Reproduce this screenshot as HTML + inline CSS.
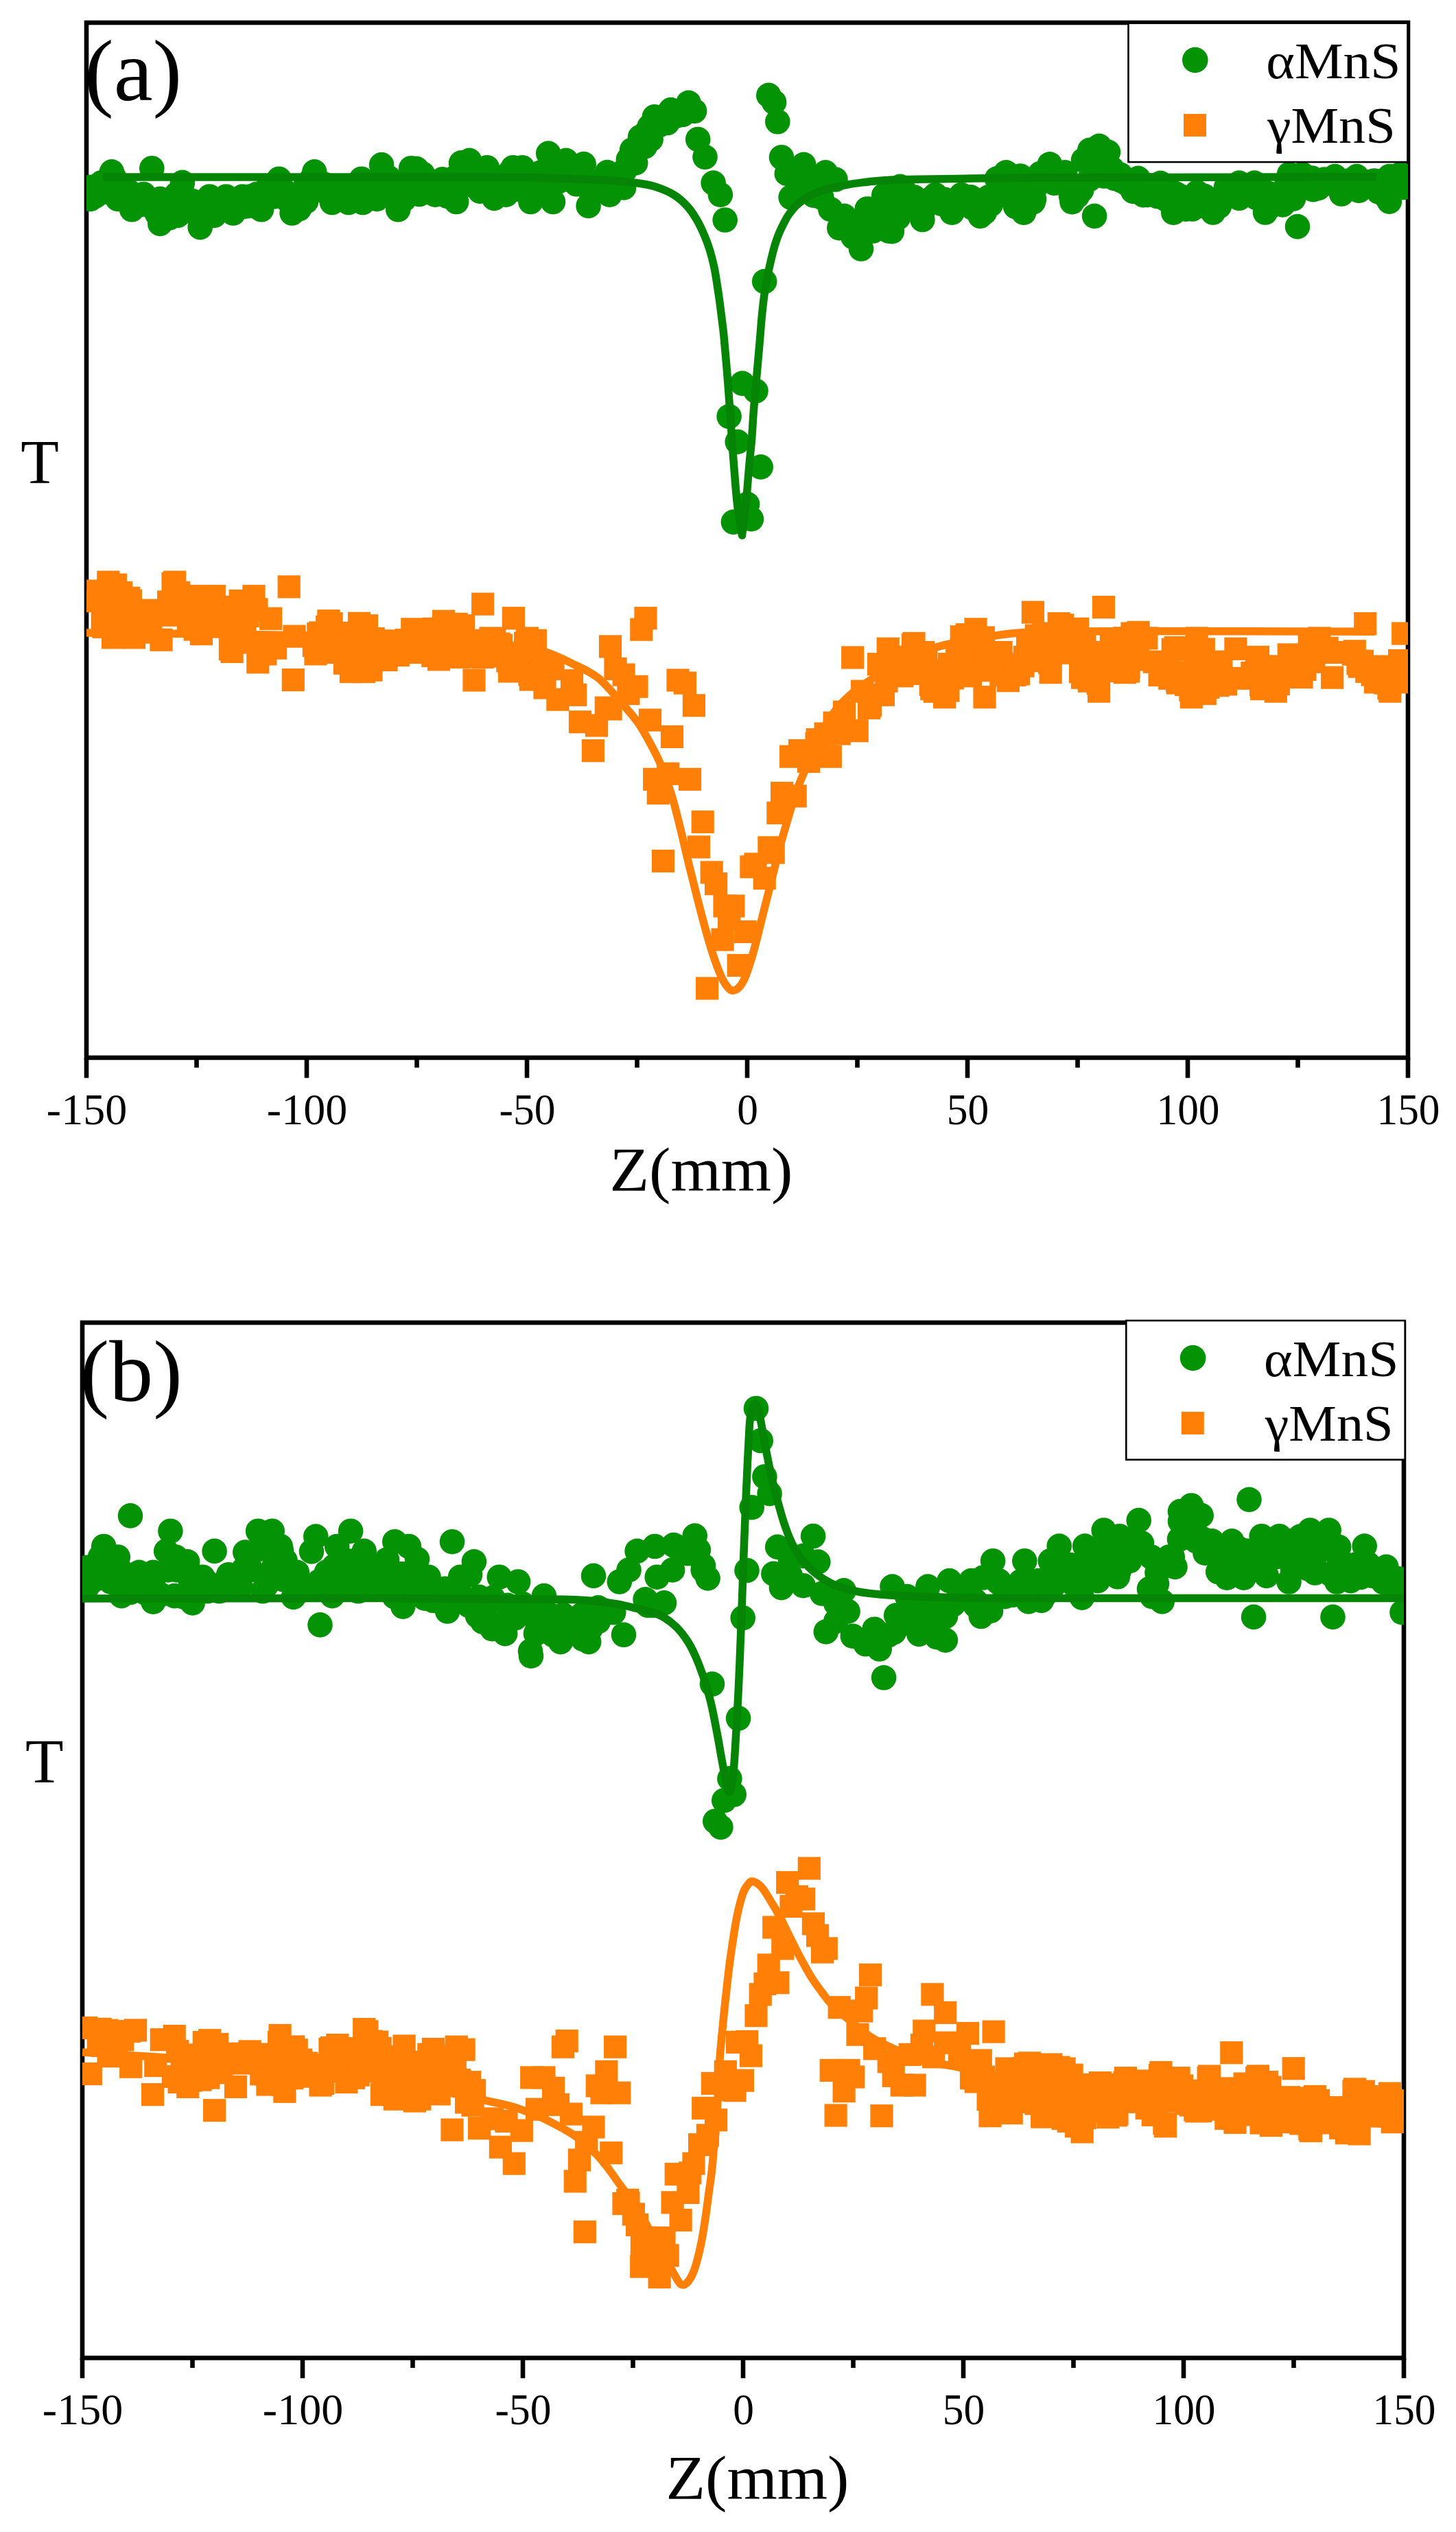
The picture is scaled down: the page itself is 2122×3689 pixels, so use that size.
<!DOCTYPE html>
<html lang="en"><head><meta charset="utf-8"><title>Z-scan MnS</title>
<style>html,body{margin:0;padding:0;background:#fff}svg{display:block}</style>
</head><body>
<svg width="2122" height="3689" viewBox="0 0 2122 3689" font-family="'Liberation Serif', serif" fill="#000">
<rect width="2122" height="3689" fill="#fff"/>
<clipPath id="clipa"><rect x="126" y="33" width="1926" height="1508"/></clipPath>
<rect x="126" y="33" width="1926" height="1508" fill="none" stroke="#000" stroke-width="6.6"/>
<line x1="126.0" y1="1541" x2="126.0" y2="1570.5" stroke="#000" stroke-width="6.6"/>
<text transform="translate(126.5,1637.7) scale(1.0,1)" font-size="64" text-anchor="middle">-150</text>
<line x1="286.5" y1="1541" x2="286.5" y2="1555.5" stroke="#000" stroke-width="6.6"/>
<line x1="447.0" y1="1541" x2="447.0" y2="1570.5" stroke="#000" stroke-width="6.6"/>
<text transform="translate(447.5,1637.7) scale(1.0,1)" font-size="64" text-anchor="middle">-100</text>
<line x1="607.5" y1="1541" x2="607.5" y2="1555.5" stroke="#000" stroke-width="6.6"/>
<line x1="768.0" y1="1541" x2="768.0" y2="1570.5" stroke="#000" stroke-width="6.6"/>
<text transform="translate(768.5,1637.7) scale(0.96,1)" font-size="64" text-anchor="middle">-50</text>
<line x1="928.5" y1="1541" x2="928.5" y2="1555.5" stroke="#000" stroke-width="6.6"/>
<line x1="1089.0" y1="1541" x2="1089.0" y2="1570.5" stroke="#000" stroke-width="6.6"/>
<text transform="translate(1089.5,1637.7) scale(0.96,1)" font-size="64" text-anchor="middle">0</text>
<line x1="1249.5" y1="1541" x2="1249.5" y2="1555.5" stroke="#000" stroke-width="6.6"/>
<line x1="1410.0" y1="1541" x2="1410.0" y2="1570.5" stroke="#000" stroke-width="6.6"/>
<text transform="translate(1410.5,1637.7) scale(0.96,1)" font-size="64" text-anchor="middle">50</text>
<line x1="1570.5" y1="1541" x2="1570.5" y2="1555.5" stroke="#000" stroke-width="6.6"/>
<line x1="1731.0" y1="1541" x2="1731.0" y2="1570.5" stroke="#000" stroke-width="6.6"/>
<text transform="translate(1731.5,1637.7) scale(0.96,1)" font-size="64" text-anchor="middle">100</text>
<line x1="1891.5" y1="1541" x2="1891.5" y2="1555.5" stroke="#000" stroke-width="6.6"/>
<line x1="2052.0" y1="1541" x2="2052.0" y2="1570.5" stroke="#000" stroke-width="6.6"/>
<text transform="translate(2052.5,1637.7) scale(0.96,1)" font-size="64" text-anchor="middle">150</text>
<g clip-path="url(#clipa)">
<g fill="#ff7f07"><rect x="126.2" y="844.5" width="33.2" height="33.2"/><rect x="132.7" y="883.7" width="33.2" height="33.2"/><rect x="139.1" y="865.4" width="33.2" height="33.2"/><rect x="145.5" y="876.8" width="33.2" height="33.2"/><rect x="151.9" y="835.5" width="33.2" height="33.2"/><rect x="158.3" y="908.9" width="33.2" height="33.2"/><rect x="164.8" y="879.6" width="33.2" height="33.2"/><rect x="171.2" y="854.8" width="33.2" height="33.2"/><rect x="177.6" y="905.8" width="33.2" height="33.2"/><rect x="184.0" y="874.9" width="33.2" height="33.2"/><rect x="190.4" y="904.5" width="33.2" height="33.2"/><rect x="196.9" y="875.4" width="33.2" height="33.2"/><rect x="203.3" y="883.7" width="33.2" height="33.2"/><rect x="216.1" y="875.6" width="33.2" height="33.2"/><rect x="229.0" y="860.3" width="33.2" height="33.2"/><rect x="235.4" y="833.9" width="33.2" height="33.2"/><rect x="241.8" y="877.1" width="33.2" height="33.2"/><rect x="248.2" y="863.2" width="33.2" height="33.2"/><rect x="254.6" y="852.7" width="33.2" height="33.2"/><rect x="267.5" y="900.4" width="33.2" height="33.2"/><rect x="273.9" y="868.6" width="33.2" height="33.2"/><rect x="280.3" y="890.5" width="33.2" height="33.2"/><rect x="286.7" y="863.1" width="33.2" height="33.2"/><rect x="293.2" y="882.3" width="33.2" height="33.2"/><rect x="299.6" y="867.9" width="33.2" height="33.2"/><rect x="306.0" y="874.7" width="33.2" height="33.2"/><rect x="312.4" y="892.0" width="33.2" height="33.2"/><rect x="318.8" y="929.1" width="33.2" height="33.2"/><rect x="325.3" y="895.9" width="33.2" height="33.2"/><rect x="331.7" y="867.8" width="33.2" height="33.2"/><rect x="338.1" y="905.8" width="33.2" height="33.2"/><rect x="344.5" y="880.9" width="33.2" height="33.2"/><rect x="350.9" y="919.4" width="33.2" height="33.2"/><rect x="357.4" y="871.3" width="33.2" height="33.2"/><rect x="363.8" y="929.0" width="33.2" height="33.2"/><rect x="370.2" y="936.3" width="33.2" height="33.2"/><rect x="440.8" y="923.9" width="33.2" height="33.2"/><rect x="447.2" y="906.9" width="33.2" height="33.2"/><rect x="453.7" y="933.8" width="33.2" height="33.2"/><rect x="460.1" y="896.7" width="33.2" height="33.2"/><rect x="466.5" y="892.1" width="33.2" height="33.2"/><rect x="472.9" y="916.8" width="33.2" height="33.2"/><rect x="479.3" y="928.0" width="33.2" height="33.2"/><rect x="485.8" y="949.6" width="33.2" height="33.2"/><rect x="492.2" y="905.7" width="33.2" height="33.2"/><rect x="498.6" y="947.9" width="33.2" height="33.2"/><rect x="505.0" y="921.1" width="33.2" height="33.2"/><rect x="511.4" y="933.8" width="33.2" height="33.2"/><rect x="517.9" y="895.1" width="33.2" height="33.2"/><rect x="524.3" y="959.6" width="33.2" height="33.2"/><rect x="530.7" y="933.6" width="33.2" height="33.2"/><rect x="537.1" y="917.6" width="33.2" height="33.2"/><rect x="543.5" y="941.5" width="33.2" height="33.2"/><rect x="550.0" y="925.6" width="33.2" height="33.2"/><rect x="556.4" y="936.6" width="33.2" height="33.2"/><rect x="562.8" y="921.4" width="33.2" height="33.2"/><rect x="569.2" y="930.4" width="33.2" height="33.2"/><rect x="575.6" y="916.0" width="33.2" height="33.2"/><rect x="582.1" y="920.4" width="33.2" height="33.2"/><rect x="588.5" y="907.1" width="33.2" height="33.2"/><rect x="594.9" y="920.0" width="33.2" height="33.2"/><rect x="601.3" y="916.7" width="33.2" height="33.2"/><rect x="607.7" y="902.1" width="33.2" height="33.2"/><rect x="614.2" y="938.8" width="33.2" height="33.2"/><rect x="620.6" y="905.3" width="33.2" height="33.2"/><rect x="627.0" y="927.5" width="33.2" height="33.2"/><rect x="633.4" y="899.7" width="33.2" height="33.2"/><rect x="639.8" y="930.3" width="33.2" height="33.2"/><rect x="646.3" y="912.9" width="33.2" height="33.2"/><rect x="652.7" y="921.5" width="33.2" height="33.2"/><rect x="659.1" y="895.1" width="33.2" height="33.2"/><rect x="665.5" y="939.6" width="33.2" height="33.2"/><rect x="671.9" y="928.7" width="33.2" height="33.2"/><rect x="678.4" y="919.6" width="33.2" height="33.2"/><rect x="684.8" y="937.5" width="33.2" height="33.2"/><rect x="691.2" y="921.5" width="33.2" height="33.2"/><rect x="697.6" y="932.5" width="33.2" height="33.2"/><rect x="704.0" y="915.4" width="33.2" height="33.2"/><rect x="710.5" y="921.5" width="33.2" height="33.2"/><rect x="716.9" y="939.5" width="33.2" height="33.2"/><rect x="723.3" y="946.3" width="33.2" height="33.2"/><rect x="729.7" y="941.8" width="33.2" height="33.2"/><rect x="736.1" y="960.3" width="33.2" height="33.2"/><rect x="742.6" y="943.3" width="33.2" height="33.2"/><rect x="749.0" y="920.5" width="33.2" height="33.2"/><rect x="755.4" y="966.2" width="33.2" height="33.2"/><rect x="761.8" y="931.3" width="33.2" height="33.2"/><rect x="1275.4" y="975.6" width="33.2" height="33.2"/><rect x="1281.8" y="942.1" width="33.2" height="33.2"/><rect x="1288.3" y="960.3" width="33.2" height="33.2"/><rect x="1301.1" y="940.7" width="33.2" height="33.2"/><rect x="1307.5" y="949.3" width="33.2" height="33.2"/><rect x="1313.9" y="923.0" width="33.2" height="33.2"/><rect x="1320.4" y="962.6" width="33.2" height="33.2"/><rect x="1326.8" y="954.0" width="33.2" height="33.2"/><rect x="1333.2" y="940.3" width="33.2" height="33.2"/><rect x="1339.6" y="980.7" width="33.2" height="33.2"/><rect x="1346.0" y="990.7" width="33.2" height="33.2"/><rect x="1352.5" y="984.7" width="33.2" height="33.2"/><rect x="1358.9" y="960.7" width="33.2" height="33.2"/><rect x="1365.3" y="989.5" width="33.2" height="33.2"/><rect x="1371.7" y="971.3" width="33.2" height="33.2"/><rect x="1378.1" y="933.9" width="33.2" height="33.2"/><rect x="1384.6" y="911.1" width="33.2" height="33.2"/><rect x="1391.0" y="964.8" width="33.2" height="33.2"/><rect x="1397.4" y="934.2" width="33.2" height="33.2"/><rect x="1403.8" y="908.4" width="33.2" height="33.2"/><rect x="1410.2" y="960.1" width="33.2" height="33.2"/><rect x="1416.7" y="912.4" width="33.2" height="33.2"/><rect x="1429.5" y="938.7" width="33.2" height="33.2"/><rect x="1435.9" y="935.3" width="33.2" height="33.2"/><rect x="1442.3" y="966.9" width="33.2" height="33.2"/><rect x="1448.8" y="951.2" width="33.2" height="33.2"/><rect x="1455.2" y="958.6" width="33.2" height="33.2"/><rect x="1461.6" y="966.9" width="33.2" height="33.2"/><rect x="1468.0" y="965.2" width="33.2" height="33.2"/><rect x="1474.4" y="953.6" width="33.2" height="33.2"/><rect x="1480.9" y="919.6" width="33.2" height="33.2"/><rect x="1487.3" y="937.9" width="33.2" height="33.2"/><rect x="1493.7" y="909.5" width="33.2" height="33.2"/><rect x="1500.1" y="946.1" width="33.2" height="33.2"/><rect x="1506.5" y="917.8" width="33.2" height="33.2"/><rect x="1513.0" y="948.9" width="33.2" height="33.2"/><rect x="1519.4" y="921.9" width="33.2" height="33.2"/><rect x="1525.8" y="934.6" width="33.2" height="33.2"/><rect x="1532.2" y="894.1" width="33.2" height="33.2"/><rect x="1538.6" y="931.8" width="33.2" height="33.2"/><rect x="1545.1" y="916.7" width="33.2" height="33.2"/><rect x="1551.5" y="908.1" width="33.2" height="33.2"/><rect x="1557.9" y="962.1" width="33.2" height="33.2"/><rect x="1564.3" y="920.9" width="33.2" height="33.2"/><rect x="1570.7" y="975.6" width="33.2" height="33.2"/><rect x="1577.2" y="950.7" width="33.2" height="33.2"/><rect x="1583.6" y="979.2" width="33.2" height="33.2"/><rect x="1590.0" y="947.7" width="33.2" height="33.2"/><rect x="1596.4" y="961.0" width="33.2" height="33.2"/><rect x="1602.8" y="917.9" width="33.2" height="33.2"/><rect x="1609.3" y="939.6" width="33.2" height="33.2"/><rect x="1615.7" y="939.0" width="33.2" height="33.2"/><rect x="1622.1" y="913.2" width="33.2" height="33.2"/><rect x="1628.5" y="954.8" width="33.2" height="33.2"/><rect x="1634.9" y="922.2" width="33.2" height="33.2"/><rect x="1641.4" y="944.4" width="33.2" height="33.2"/><rect x="1654.2" y="913.3" width="33.2" height="33.2"/><rect x="1673.5" y="966.9" width="33.2" height="33.2"/><rect x="1679.9" y="957.7" width="33.2" height="33.2"/><rect x="1686.3" y="957.9" width="33.2" height="33.2"/><rect x="1692.7" y="929.6" width="33.2" height="33.2"/><rect x="1699.1" y="976.0" width="33.2" height="33.2"/><rect x="1705.6" y="963.1" width="33.2" height="33.2"/><rect x="1712.0" y="981.0" width="33.2" height="33.2"/><rect x="1718.4" y="988.8" width="33.2" height="33.2"/><rect x="1724.8" y="939.0" width="33.2" height="33.2"/><rect x="1731.2" y="973.4" width="33.2" height="33.2"/><rect x="1737.7" y="929.4" width="33.2" height="33.2"/><rect x="1744.1" y="984.7" width="33.2" height="33.2"/><rect x="1750.5" y="967.1" width="33.2" height="33.2"/><rect x="1756.9" y="968.2" width="33.2" height="33.2"/><rect x="1763.3" y="949.3" width="33.2" height="33.2"/><rect x="1769.8" y="980.3" width="33.2" height="33.2"/><rect x="1808.3" y="963.9" width="33.2" height="33.2"/><rect x="1814.7" y="946.3" width="33.2" height="33.2"/><rect x="1821.1" y="981.6" width="33.2" height="33.2"/><rect x="1827.5" y="954.7" width="33.2" height="33.2"/><rect x="1834.0" y="979.7" width="33.2" height="33.2"/><rect x="1840.4" y="961.7" width="33.2" height="33.2"/><rect x="1846.8" y="979.9" width="33.2" height="33.2"/><rect x="1853.2" y="959.7" width="33.2" height="33.2"/><rect x="1866.1" y="956.9" width="33.2" height="33.2"/><rect x="1872.5" y="939.0" width="33.2" height="33.2"/><rect x="1878.9" y="968.8" width="33.2" height="33.2"/><rect x="1885.3" y="958.8" width="33.2" height="33.2"/><rect x="1891.7" y="920.1" width="33.2" height="33.2"/><rect x="1898.2" y="943.5" width="33.2" height="33.2"/><rect x="1904.6" y="923.6" width="33.2" height="33.2"/><rect x="1917.4" y="927.7" width="33.2" height="33.2"/><rect x="1955.9" y="936.6" width="33.2" height="33.2"/><rect x="1962.4" y="950.0" width="33.2" height="33.2"/><rect x="1968.8" y="946.6" width="33.2" height="33.2"/><rect x="1975.2" y="961.7" width="33.2" height="33.2"/><rect x="1981.6" y="955.1" width="33.2" height="33.2"/><rect x="1988.0" y="977.3" width="33.2" height="33.2"/><rect x="1994.5" y="972.5" width="33.2" height="33.2"/><rect x="2000.9" y="958.8" width="33.2" height="33.2"/><rect x="2007.3" y="986.2" width="33.2" height="33.2"/><rect x="2013.7" y="959.3" width="33.2" height="33.2"/><rect x="2020.1" y="977.2" width="33.2" height="33.2"/><rect x="115.4" y="858.9" width="33.2" height="33.2"/><rect x="141.2" y="831.5" width="33.2" height="33.2"/><rect x="134.3" y="896.7" width="33.2" height="33.2"/><rect x="148.0" y="912.2" width="33.2" height="33.2"/><rect x="160.1" y="846.9" width="33.2" height="33.2"/><rect x="173.8" y="858.9" width="33.2" height="33.2"/><rect x="178.9" y="912.2" width="33.2" height="33.2"/><rect x="218.4" y="915.6" width="33.2" height="33.2"/><rect x="206.4" y="872.7" width="33.2" height="33.2"/><rect x="238.0" y="831.5" width="33.2" height="33.2"/><rect x="244.2" y="846.9" width="33.2" height="33.2"/><rect x="257.9" y="895.0" width="33.2" height="33.2"/><rect x="276.8" y="852.1" width="33.2" height="33.2"/><rect x="276.8" y="907.0" width="33.2" height="33.2"/><rect x="295.7" y="852.1" width="33.2" height="33.2"/><rect x="300.9" y="889.9" width="33.2" height="33.2"/><rect x="321.5" y="932.8" width="33.2" height="33.2"/><rect x="333.5" y="858.9" width="33.2" height="33.2"/><rect x="353.4" y="852.1" width="33.2" height="33.2"/><rect x="340.4" y="912.2" width="33.2" height="33.2"/><rect x="359.2" y="948.2" width="33.2" height="33.2"/><rect x="378.1" y="884.7" width="33.2" height="33.2"/><rect x="385.0" y="927.6" width="33.2" height="33.2"/><rect x="404.6" y="838.3" width="33.2" height="33.2"/><rect x="410.7" y="974.0" width="33.2" height="33.2"/><rect x="412.5" y="910.5" width="33.2" height="33.2"/><rect x="443.4" y="936.2" width="33.2" height="33.2"/><rect x="450.2" y="905.3" width="33.2" height="33.2"/><rect x="462.3" y="888.1" width="33.2" height="33.2"/><rect x="488.0" y="944.8" width="33.2" height="33.2"/><rect x="494.9" y="962.0" width="33.2" height="33.2"/><rect x="506.9" y="891.6" width="33.2" height="33.2"/><rect x="513.8" y="962.0" width="33.2" height="33.2"/><rect x="520.6" y="953.4" width="33.2" height="33.2"/><rect x="527.5" y="913.9" width="33.2" height="33.2"/><rect x="546.4" y="944.8" width="33.2" height="33.2"/><rect x="563.6" y="937.9" width="33.2" height="33.2"/><rect x="580.7" y="920.8" width="33.2" height="33.2"/><rect x="584.2" y="900.2" width="33.2" height="33.2"/><rect x="597.9" y="920.8" width="33.2" height="33.2"/><rect x="154.9" y="872.7" width="33.2" height="33.2"/><rect x="189.3" y="886.4" width="33.2" height="33.2"/><rect x="230.5" y="879.6" width="33.2" height="33.2"/><rect x="323.2" y="896.7" width="33.2" height="33.2"/><rect x="481.1" y="920.8" width="33.2" height="33.2"/><rect x="549.8" y="917.3" width="33.2" height="33.2"/><rect x="586.8" y="933.9" width="33.2" height="33.2"/><rect x="593.7" y="906.4" width="33.2" height="33.2"/><rect x="616.0" y="899.6" width="33.2" height="33.2"/><rect x="629.8" y="888.6" width="33.2" height="33.2"/><rect x="622.9" y="944.2" width="33.2" height="33.2"/><rect x="648.6" y="892.7" width="33.2" height="33.2"/><rect x="652.1" y="940.8" width="33.2" height="33.2"/><rect x="674.4" y="974.4" width="33.2" height="33.2"/><rect x="687.1" y="863.5" width="33.2" height="33.2"/><rect x="698.4" y="913.3" width="33.2" height="33.2"/><rect x="686.4" y="940.8" width="33.2" height="33.2"/><rect x="713.9" y="923.6" width="33.2" height="33.2"/><rect x="725.9" y="961.4" width="33.2" height="33.2"/><rect x="731.8" y="884.1" width="33.2" height="33.2"/><rect x="751.7" y="913.3" width="33.2" height="33.2"/><rect x="763.7" y="916.7" width="33.2" height="33.2"/><rect x="756.8" y="973.4" width="33.2" height="33.2"/><rect x="777.4" y="985.4" width="33.2" height="33.2"/><rect x="796.3" y="1002.6" width="33.2" height="33.2"/><rect x="789.4" y="957.9" width="33.2" height="33.2"/><rect x="816.9" y="975.1" width="33.2" height="33.2"/><rect x="822.1" y="995.7" width="33.2" height="33.2"/><rect x="828.9" y="1035.2" width="33.2" height="33.2"/><rect x="853.0" y="1040.4" width="33.2" height="33.2"/><rect x="847.8" y="1077.1" width="33.2" height="33.2"/><rect x="866.7" y="1014.6" width="33.2" height="33.2"/><rect x="872.9" y="925.3" width="33.2" height="33.2"/><rect x="880.4" y="957.9" width="33.2" height="33.2"/><rect x="892.5" y="966.5" width="33.2" height="33.2"/><rect x="899.3" y="994.0" width="33.2" height="33.2"/><rect x="911.4" y="983.7" width="33.2" height="33.2"/><rect x="918.2" y="900.6" width="33.2" height="33.2"/><rect x="924.4" y="884.1" width="33.2" height="33.2"/><rect x="930.9" y="1032.5" width="33.2" height="33.2"/><rect x="962.9" y="1056.8" width="33.2" height="33.2"/><rect x="971.4" y="974.4" width="33.2" height="33.2"/><rect x="981.8" y="978.5" width="33.2" height="33.2"/><rect x="994.8" y="1011.2" width="33.2" height="33.2"/><rect x="624.6" y="916.7" width="33.2" height="33.2"/><rect x="669.3" y="916.7" width="33.2" height="33.2"/><rect x="737.9" y="940.8" width="33.2" height="33.2"/><rect x="775.7" y="954.5" width="33.2" height="33.2"/><rect x="873.5" y="1016.4" width="33.2" height="33.2"/><rect x="937.0" y="1118.8" width="33.2" height="33.2"/><rect x="957.1" y="1110.7" width="33.2" height="33.2"/><rect x="988.9" y="1118.8" width="33.2" height="33.2"/><rect x="942.7" y="1139.0" width="33.2" height="33.2"/><rect x="1007.6" y="1180.8" width="33.2" height="33.2"/><rect x="1001.9" y="1217.4" width="33.2" height="33.2"/><rect x="949.9" y="1237.9" width="33.2" height="33.2"/><rect x="1020.6" y="1254.4" width="33.2" height="33.2"/><rect x="1027.0" y="1271.1" width="33.2" height="33.2"/><rect x="1039.4" y="1303.4" width="33.2" height="33.2"/><rect x="1052.3" y="1303.4" width="33.2" height="33.2"/><rect x="1046.0" y="1320.7" width="33.2" height="33.2"/><rect x="1036.5" y="1352.4" width="33.2" height="33.2"/><rect x="1069.6" y="1340.9" width="33.2" height="33.2"/><rect x="1059.6" y="1389.9" width="33.2" height="33.2"/><rect x="1014.0" y="1423.4" width="33.2" height="33.2"/><rect x="1078.3" y="1246.3" width="33.2" height="33.2"/><rect x="1097.6" y="1263.0" width="33.2" height="33.2"/><rect x="1104.3" y="1218.3" width="33.2" height="33.2"/><rect x="1110.6" y="1225.5" width="33.2" height="33.2"/><rect x="1117.2" y="1167.8" width="33.2" height="33.2"/><rect x="1123.0" y="1139.0" width="33.2" height="33.2"/><rect x="1142.6" y="1143.3" width="33.2" height="33.2"/><rect x="1136.0" y="1085.6" width="33.2" height="33.2"/><rect x="1149.0" y="1077.0" width="33.2" height="33.2"/><rect x="1162.0" y="1092.8" width="33.2" height="33.2"/><rect x="1173.5" y="1066.9" width="33.2" height="33.2"/><rect x="1193.7" y="1085.6" width="33.2" height="33.2"/><rect x="1186.5" y="1052.4" width="33.2" height="33.2"/><rect x="1199.5" y="1036.6" width="33.2" height="33.2"/><rect x="1206.7" y="1052.4" width="33.2" height="33.2"/><rect x="1232.6" y="1048.1" width="33.2" height="33.2"/><rect x="1213.9" y="1020.7" width="33.2" height="33.2"/><rect x="1249.9" y="1014.9" width="33.2" height="33.2"/><rect x="1174.6" y="1061.0" width="33.2" height="33.2"/><rect x="1226.1" y="941.4" width="33.2" height="33.2"/><rect x="1239.9" y="990.6" width="33.2" height="33.2"/><rect x="1251.9" y="1011.2" width="33.2" height="33.2"/><rect x="1263.9" y="951.1" width="33.2" height="33.2"/><rect x="1277.6" y="928.7" width="33.2" height="33.2"/><rect x="1270.8" y="995.7" width="33.2" height="33.2"/><rect x="1298.2" y="968.2" width="33.2" height="33.2"/><rect x="1315.4" y="920.8" width="33.2" height="33.2"/><rect x="1329.1" y="933.9" width="33.2" height="33.2"/><rect x="1341.2" y="987.1" width="33.2" height="33.2"/><rect x="1360.0" y="999.1" width="33.2" height="33.2"/><rect x="1366.9" y="951.1" width="33.2" height="33.2"/><rect x="1392.7" y="908.1" width="33.2" height="33.2"/><rect x="1405.4" y="900.2" width="33.2" height="33.2"/><rect x="1397.8" y="968.2" width="33.2" height="33.2"/><rect x="1418.4" y="999.1" width="33.2" height="33.2"/><rect x="1452.8" y="975.1" width="33.2" height="33.2"/><rect x="1463.1" y="966.5" width="33.2" height="33.2"/><rect x="1442.5" y="933.9" width="33.2" height="33.2"/><rect x="1488.8" y="875.5" width="33.2" height="33.2"/><rect x="1504.3" y="906.4" width="33.2" height="33.2"/><rect x="1514.6" y="963.1" width="33.2" height="33.2"/><rect x="1526.6" y="892.0" width="33.2" height="33.2"/><rect x="1554.1" y="899.6" width="33.2" height="33.2"/><rect x="1531.8" y="933.9" width="33.2" height="33.2"/><rect x="1560.9" y="970.6" width="33.2" height="33.2"/><rect x="1585.0" y="990.6" width="33.2" height="33.2"/><rect x="1566.1" y="940.8" width="33.2" height="33.2"/><rect x="1591.8" y="868.0" width="33.2" height="33.2"/><rect x="1597.0" y="933.9" width="33.2" height="33.2"/><rect x="1622.8" y="963.1" width="33.2" height="33.2"/><rect x="1614.2" y="916.7" width="33.2" height="33.2"/><rect x="1633.4" y="906.4" width="33.2" height="33.2"/><rect x="1325.7" y="964.8" width="33.2" height="33.2"/><rect x="1387.5" y="940.8" width="33.2" height="33.2"/><rect x="1421.9" y="940.8" width="33.2" height="33.2"/><rect x="1476.8" y="940.8" width="33.2" height="33.2"/><rect x="1490.5" y="916.7" width="33.2" height="33.2"/><rect x="1604.0" y="940.8" width="33.2" height="33.2"/><rect x="1628.0" y="961.4" width="33.2" height="33.2"/><rect x="1642.5" y="904.7" width="33.2" height="33.2"/><rect x="1665.8" y="947.6" width="33.2" height="33.2"/><rect x="1688.1" y="971.7" width="33.2" height="33.2"/><rect x="1700.2" y="978.5" width="33.2" height="33.2"/><rect x="1719.7" y="999.1" width="33.2" height="33.2"/><rect x="1696.7" y="927.0" width="33.2" height="33.2"/><rect x="1727.6" y="940.8" width="33.2" height="33.2"/><rect x="1739.7" y="994.0" width="33.2" height="33.2"/><rect x="1758.5" y="982.0" width="33.2" height="33.2"/><rect x="1755.1" y="947.6" width="33.2" height="33.2"/><rect x="1784.3" y="928.7" width="33.2" height="33.2"/><rect x="1789.4" y="971.7" width="33.2" height="33.2"/><rect x="1822.1" y="987.1" width="33.2" height="33.2"/><rect x="1842.7" y="990.6" width="33.2" height="33.2"/><rect x="1816.9" y="940.8" width="33.2" height="33.2"/><rect x="1861.6" y="937.3" width="33.2" height="33.2"/><rect x="1880.4" y="970.0" width="33.2" height="33.2"/><rect x="1906.2" y="913.3" width="33.2" height="33.2"/><rect x="1925.1" y="970.6" width="33.2" height="33.2"/><rect x="1926.8" y="933.9" width="33.2" height="33.2"/><rect x="1957.7" y="932.2" width="33.2" height="33.2"/><rect x="1964.6" y="954.5" width="33.2" height="33.2"/><rect x="1973.2" y="892.0" width="33.2" height="33.2"/><rect x="1983.5" y="966.5" width="33.2" height="33.2"/><rect x="2002.4" y="978.5" width="33.2" height="33.2"/><rect x="2009.2" y="990.6" width="33.2" height="33.2"/><rect x="2023.0" y="945.9" width="33.2" height="33.2"/><rect x="2028.1" y="906.4" width="33.2" height="33.2"/><rect x="2033.3" y="947.6" width="33.2" height="33.2"/><rect x="1727.6" y="913.3" width="33.2" height="33.2"/><rect x="1844.4" y="954.5" width="33.2" height="33.2"/><rect x="1892.5" y="947.6" width="33.2" height="33.2"/><rect x="1604.0" y="916.7" width="33.2" height="33.2"/><rect x="1995.5" y="954.5" width="33.2" height="33.2"/><rect x="1084.4" y="1242.4" width="33.2" height="33.2"/></g>
<path d="M126.0,922.0C171.7,922.5 321.0,923.7 400.0,925.0C479.0,926.3 550.0,928.2 600.0,930.0C650.0,931.8 675.0,934.2 700.0,936.0C725.0,937.8 734.2,938.7 750.0,941.0C765.8,943.3 780.7,945.6 794.5,949.8C808.3,954.0 820.2,960.0 833.0,966.3C845.8,972.6 859.1,977.7 871.5,987.6C883.9,997.5 897.8,1015.1 907.4,1025.8C917.0,1036.5 922.5,1042.6 929.0,1051.7C935.5,1060.8 940.8,1070.5 946.3,1080.6C951.8,1090.7 956.9,1099.8 962.2,1112.3C967.5,1124.8 973.2,1140.2 978.0,1155.6C982.8,1171.0 986.7,1187.3 991.0,1204.6C995.3,1221.9 999.7,1241.6 1004.0,1259.4C1008.3,1277.2 1012.7,1294.5 1017.0,1311.3C1021.3,1328.1 1025.9,1346.0 1030.0,1360.4C1034.1,1374.8 1037.7,1386.9 1041.5,1397.9C1045.3,1409.0 1049.6,1419.7 1053.0,1426.7C1056.4,1433.7 1059.3,1437.0 1061.7,1439.7C1064.1,1442.5 1065.1,1443.2 1067.5,1443.2C1069.9,1443.2 1073.1,1442.5 1076.0,1439.7C1078.9,1437.0 1081.6,1433.7 1084.8,1426.7C1088.0,1419.7 1091.5,1409.0 1094.9,1397.9C1098.3,1386.9 1101.7,1373.4 1105.0,1360.4C1108.3,1347.4 1111.6,1333.5 1115.0,1320.0C1118.4,1306.5 1121.6,1294.0 1125.2,1279.6C1128.8,1265.2 1132.9,1247.9 1136.7,1233.5C1140.5,1219.1 1144.5,1206.0 1148.3,1193.0C1152.1,1180.0 1156.0,1166.6 1159.8,1155.6C1163.6,1144.5 1164.1,1143.1 1171.3,1126.7C1178.5,1110.3 1191.7,1076.1 1203.0,1057.0C1214.3,1037.9 1223.1,1026.5 1239.3,1012.3C1255.5,998.1 1279.4,983.5 1300.0,972.0C1320.6,960.5 1339.9,950.9 1363.0,943.6C1386.1,936.3 1415.7,931.9 1438.5,928.2C1461.3,924.5 1464.8,922.7 1500.0,921.3C1535.2,919.9 1566.1,919.8 1650.0,919.6C1733.9,919.4 1944.6,920.2 2003.5,920.3" fill="none" stroke="#ff7f07" stroke-width="11.5" stroke-linejoin="round"/>
<g fill="#049304"><circle cx="130.0" cy="277.0" r="18.3"/><circle cx="139.0" cy="285.6" r="18.3"/><circle cx="148.0" cy="266.2" r="18.3"/><circle cx="157.0" cy="274.1" r="18.3"/><circle cx="166.0" cy="258.3" r="18.3"/><circle cx="175.0" cy="282.0" r="18.3"/><circle cx="184.0" cy="292.5" r="18.3"/><circle cx="193.0" cy="286.0" r="18.3"/><circle cx="202.0" cy="298.9" r="18.3"/><circle cx="220.0" cy="300.2" r="18.3"/><circle cx="229.0" cy="311.5" r="18.3"/><circle cx="238.0" cy="297.1" r="18.3"/><circle cx="247.0" cy="317.4" r="18.3"/><circle cx="256.0" cy="289.9" r="18.3"/><circle cx="265.0" cy="277.9" r="18.3"/><circle cx="274.0" cy="301.9" r="18.3"/><circle cx="283.0" cy="308.4" r="18.3"/><circle cx="292.0" cy="313.2" r="18.3"/><circle cx="301.0" cy="295.4" r="18.3"/><circle cx="310.0" cy="308.4" r="18.3"/><circle cx="319.0" cy="300.2" r="18.3"/><circle cx="328.0" cy="293.3" r="18.3"/><circle cx="337.0" cy="304.5" r="18.3"/><circle cx="346.0" cy="296.1" r="18.3"/><circle cx="355.0" cy="300.9" r="18.3"/><circle cx="364.0" cy="286.5" r="18.3"/><circle cx="373.0" cy="300.9" r="18.3"/><circle cx="382.0" cy="294.2" r="18.3"/><circle cx="391.0" cy="271.9" r="18.3"/><circle cx="400.0" cy="280.0" r="18.3"/><circle cx="409.0" cy="271.0" r="18.3"/><circle cx="418.0" cy="290.6" r="18.3"/><circle cx="427.0" cy="285.8" r="18.3"/><circle cx="436.0" cy="304.3" r="18.3"/><circle cx="445.0" cy="271.9" r="18.3"/><circle cx="454.0" cy="261.1" r="18.3"/><circle cx="463.0" cy="269.7" r="18.3"/><circle cx="472.0" cy="268.3" r="18.3"/><circle cx="481.0" cy="286.1" r="18.3"/><circle cx="490.0" cy="277.2" r="18.3"/><circle cx="499.0" cy="290.6" r="18.3"/><circle cx="508.0" cy="285.6" r="18.3"/><circle cx="517.0" cy="269.3" r="18.3"/><circle cx="526.0" cy="286.5" r="18.3"/><circle cx="535.0" cy="274.4" r="18.3"/><circle cx="544.0" cy="273.1" r="18.3"/><circle cx="553.0" cy="262.4" r="18.3"/><circle cx="562.0" cy="279.9" r="18.3"/><circle cx="571.0" cy="272.7" r="18.3"/><circle cx="580.0" cy="270.6" r="18.3"/><circle cx="589.0" cy="290.3" r="18.3"/><circle cx="598.0" cy="258.0" r="18.3"/><circle cx="607.0" cy="257.9" r="18.3"/><circle cx="616.0" cy="253.4" r="18.3"/><circle cx="625.0" cy="279.3" r="18.3"/><circle cx="634.0" cy="272.6" r="18.3"/><circle cx="643.0" cy="267.0" r="18.3"/><circle cx="652.0" cy="285.9" r="18.3"/><circle cx="661.0" cy="260.0" r="18.3"/><circle cx="670.0" cy="253.8" r="18.3"/><circle cx="679.0" cy="245.9" r="18.3"/><circle cx="688.0" cy="269.6" r="18.3"/><circle cx="697.0" cy="256.2" r="18.3"/><circle cx="706.0" cy="255.4" r="18.3"/><circle cx="715.0" cy="277.7" r="18.3"/><circle cx="724.0" cy="262.1" r="18.3"/><circle cx="733.0" cy="271.0" r="18.3"/><circle cx="742.0" cy="252.1" r="18.3"/><circle cx="751.0" cy="275.8" r="18.3"/><circle cx="760.0" cy="269.1" r="18.3"/><circle cx="769.0" cy="256.7" r="18.3"/><circle cx="778.0" cy="285.4" r="18.3"/><circle cx="787.0" cy="251.8" r="18.3"/><circle cx="796.0" cy="265.9" r="18.3"/><circle cx="805.0" cy="237.7" r="18.3"/><circle cx="814.0" cy="258.7" r="18.3"/><circle cx="823.0" cy="249.4" r="18.3"/><circle cx="832.0" cy="242.5" r="18.3"/><circle cx="841.0" cy="261.0" r="18.3"/><circle cx="850.0" cy="263.4" r="18.3"/><circle cx="859.0" cy="275.5" r="18.3"/><circle cx="868.0" cy="271.8" r="18.3"/><circle cx="877.0" cy="277.2" r="18.3"/><circle cx="1309.0" cy="317.1" r="18.3"/><circle cx="1318.0" cy="278.3" r="18.3"/><circle cx="1327.0" cy="291.2" r="18.3"/><circle cx="1336.0" cy="300.4" r="18.3"/><circle cx="1345.0" cy="306.9" r="18.3"/><circle cx="1354.0" cy="291.1" r="18.3"/><circle cx="1363.0" cy="292.2" r="18.3"/><circle cx="1372.0" cy="296.8" r="18.3"/><circle cx="1381.0" cy="295.5" r="18.3"/><circle cx="1390.0" cy="303.2" r="18.3"/><circle cx="1399.0" cy="294.2" r="18.3"/><circle cx="1417.0" cy="302.5" r="18.3"/><circle cx="1426.0" cy="292.9" r="18.3"/><circle cx="1435.0" cy="309.3" r="18.3"/><circle cx="1444.0" cy="297.7" r="18.3"/><circle cx="1453.0" cy="260.3" r="18.3"/><circle cx="1462.0" cy="273.2" r="18.3"/><circle cx="1471.0" cy="266.1" r="18.3"/><circle cx="1480.0" cy="283.2" r="18.3"/><circle cx="1489.0" cy="267.1" r="18.3"/><circle cx="1498.0" cy="299.0" r="18.3"/><circle cx="1507.0" cy="289.9" r="18.3"/><circle cx="1516.0" cy="253.0" r="18.3"/><circle cx="1525.0" cy="262.5" r="18.3"/><circle cx="1534.0" cy="250.3" r="18.3"/><circle cx="1543.0" cy="255.8" r="18.3"/><circle cx="1552.0" cy="259.9" r="18.3"/><circle cx="1561.0" cy="285.6" r="18.3"/><circle cx="1570.0" cy="285.6" r="18.3"/><circle cx="1579.0" cy="233.3" r="18.3"/><circle cx="1588.0" cy="261.0" r="18.3"/><circle cx="1597.0" cy="230.3" r="18.3"/><circle cx="1606.0" cy="239.0" r="18.3"/><circle cx="1615.0" cy="221.6" r="18.3"/><circle cx="1624.0" cy="259.9" r="18.3"/><circle cx="1633.0" cy="254.7" r="18.3"/><circle cx="1642.0" cy="267.2" r="18.3"/><circle cx="1651.0" cy="278.0" r="18.3"/><circle cx="1660.0" cy="269.6" r="18.3"/><circle cx="1669.0" cy="274.4" r="18.3"/><circle cx="1678.0" cy="270.2" r="18.3"/><circle cx="1687.0" cy="286.0" r="18.3"/><circle cx="1696.0" cy="288.2" r="18.3"/><circle cx="1705.0" cy="277.5" r="18.3"/><circle cx="1714.0" cy="300.4" r="18.3"/><circle cx="1723.0" cy="294.3" r="18.3"/><circle cx="1732.0" cy="297.7" r="18.3"/><circle cx="1741.0" cy="289.4" r="18.3"/><circle cx="1750.0" cy="299.7" r="18.3"/><circle cx="1759.0" cy="295.0" r="18.3"/><circle cx="1768.0" cy="291.6" r="18.3"/><circle cx="1777.0" cy="300.3" r="18.3"/><circle cx="1786.0" cy="280.6" r="18.3"/><circle cx="1795.0" cy="281.9" r="18.3"/><circle cx="1804.0" cy="271.1" r="18.3"/><circle cx="1813.0" cy="284.4" r="18.3"/><circle cx="1831.0" cy="288.1" r="18.3"/><circle cx="1840.0" cy="277.3" r="18.3"/><circle cx="1849.0" cy="302.7" r="18.3"/><circle cx="1858.0" cy="293.3" r="18.3"/><circle cx="1867.0" cy="280.6" r="18.3"/><circle cx="1876.0" cy="262.8" r="18.3"/><circle cx="1885.0" cy="289.5" r="18.3"/><circle cx="1903.0" cy="265.0" r="18.3"/><circle cx="1912.0" cy="259.5" r="18.3"/><circle cx="1921.0" cy="274.2" r="18.3"/><circle cx="1930.0" cy="261.6" r="18.3"/><circle cx="1939.0" cy="263.8" r="18.3"/><circle cx="1948.0" cy="262.2" r="18.3"/><circle cx="1957.0" cy="277.4" r="18.3"/><circle cx="1966.0" cy="269.8" r="18.3"/><circle cx="1975.0" cy="262.3" r="18.3"/><circle cx="1984.0" cy="272.6" r="18.3"/><circle cx="1993.0" cy="265.4" r="18.3"/><circle cx="2002.0" cy="273.0" r="18.3"/><circle cx="2011.0" cy="264.4" r="18.3"/><circle cx="2020.0" cy="286.3" r="18.3"/><circle cx="2029.0" cy="273.8" r="18.3"/><circle cx="2038.0" cy="263.9" r="18.3"/><circle cx="2047.0" cy="268.2" r="18.3"/><circle cx="132.0" cy="272.7" r="18.3"/><circle cx="132.0" cy="289.9" r="18.3"/><circle cx="162.9" cy="250.4" r="18.3"/><circle cx="171.5" cy="289.9" r="18.3"/><circle cx="192.1" cy="305.3" r="18.3"/><circle cx="221.3" cy="245.2" r="18.3"/><circle cx="233.3" cy="325.9" r="18.3"/><circle cx="265.9" cy="265.9" r="18.3"/><circle cx="291.7" cy="331.1" r="18.3"/><circle cx="259.1" cy="313.9" r="18.3"/><circle cx="312.3" cy="313.9" r="18.3"/><circle cx="339.8" cy="310.5" r="18.3"/><circle cx="381.0" cy="305.3" r="18.3"/><circle cx="406.7" cy="260.7" r="18.3"/><circle cx="425.6" cy="310.5" r="18.3"/><circle cx="458.3" cy="250.4" r="18.3"/><circle cx="484.0" cy="295.0" r="18.3"/><circle cx="508.0" cy="295.0" r="18.3"/><circle cx="528.7" cy="295.0" r="18.3"/><circle cx="526.9" cy="260.7" r="18.3"/><circle cx="556.1" cy="240.1" r="18.3"/><circle cx="580.2" cy="305.3" r="18.3"/><circle cx="599.1" cy="245.2" r="18.3"/><circle cx="611.1" cy="283.0" r="18.3"/><circle cx="150.9" cy="279.6" r="18.3"/><circle cx="188.7" cy="279.6" r="18.3"/><circle cx="209.3" cy="283.0" r="18.3"/><circle cx="233.3" cy="289.9" r="18.3"/><circle cx="257.4" cy="283.0" r="18.3"/><circle cx="281.4" cy="293.3" r="18.3"/><circle cx="305.4" cy="286.5" r="18.3"/><circle cx="329.5" cy="286.5" r="18.3"/><circle cx="353.5" cy="286.5" r="18.3"/><circle cx="374.1" cy="283.0" r="18.3"/><circle cx="398.2" cy="286.5" r="18.3"/><circle cx="422.2" cy="283.0" r="18.3"/><circle cx="442.8" cy="279.6" r="18.3"/><circle cx="466.8" cy="276.2" r="18.3"/><circle cx="490.9" cy="272.7" r="18.3"/><circle cx="511.5" cy="276.2" r="18.3"/><circle cx="542.4" cy="276.2" r="18.3"/><circle cx="566.4" cy="276.2" r="18.3"/><circle cx="587.0" cy="276.2" r="18.3"/><circle cx="611.1" cy="265.9" r="18.3"/><circle cx="360.4" cy="300.2" r="18.3"/><circle cx="326.0" cy="300.2" r="18.3"/><circle cx="274.5" cy="307.1" r="18.3"/><circle cx="446.2" cy="293.3" r="18.3"/><circle cx="549.3" cy="289.9" r="18.3"/><circle cx="566.4" cy="259.0" r="18.3"/><circle cx="606.9" cy="245.9" r="18.3"/><circle cx="634.3" cy="283.7" r="18.3"/><circle cx="665.2" cy="294.0" r="18.3"/><circle cx="672.1" cy="237.4" r="18.3"/><circle cx="684.1" cy="233.9" r="18.3"/><circle cx="709.9" cy="244.2" r="18.3"/><circle cx="699.6" cy="278.6" r="18.3"/><circle cx="720.2" cy="288.9" r="18.3"/><circle cx="737.4" cy="283.7" r="18.3"/><circle cx="747.7" cy="244.2" r="18.3"/><circle cx="761.4" cy="244.2" r="18.3"/><circle cx="782.0" cy="259.7" r="18.3"/><circle cx="773.4" cy="294.0" r="18.3"/><circle cx="806.0" cy="294.0" r="18.3"/><circle cx="799.2" cy="223.6" r="18.3"/><circle cx="824.9" cy="233.9" r="18.3"/><circle cx="850.7" cy="239.1" r="18.3"/><circle cx="840.4" cy="268.3" r="18.3"/><circle cx="857.6" cy="299.9" r="18.3"/><circle cx="885.0" cy="251.1" r="18.3"/><circle cx="888.5" cy="283.7" r="18.3"/><circle cx="909.1" cy="273.4" r="18.3"/><circle cx="921.1" cy="218.5" r="18.3"/><circle cx="926.2" cy="237.4" r="18.3"/><circle cx="940.0" cy="213.3" r="18.3"/><circle cx="946.8" cy="184.1" r="18.3"/><circle cx="953.7" cy="170.4" r="18.3"/><circle cx="960.6" cy="182.4" r="18.3"/><circle cx="977.7" cy="160.1" r="18.3"/><circle cx="994.9" cy="167.0" r="18.3"/><circle cx="1003.5" cy="149.8" r="18.3"/><circle cx="1012.1" cy="161.8" r="18.3"/><circle cx="1017.2" cy="203.0" r="18.3"/><circle cx="1027.5" cy="228.8" r="18.3"/><circle cx="1039.6" cy="266.6" r="18.3"/><circle cx="1049.9" cy="283.7" r="18.3"/><circle cx="1056.7" cy="320.5" r="18.3"/><circle cx="620.6" cy="261.4" r="18.3"/><circle cx="644.6" cy="261.4" r="18.3"/><circle cx="658.4" cy="264.8" r="18.3"/><circle cx="685.9" cy="261.4" r="18.3"/><circle cx="727.1" cy="264.8" r="18.3"/><circle cx="751.1" cy="271.7" r="18.3"/><circle cx="792.3" cy="271.7" r="18.3"/><circle cx="812.9" cy="264.8" r="18.3"/><circle cx="826.6" cy="261.4" r="18.3"/><circle cx="861.0" cy="264.8" r="18.3"/><circle cx="874.7" cy="271.7" r="18.3"/><circle cx="902.2" cy="261.4" r="18.3"/><circle cx="933.1" cy="199.6" r="18.3"/><circle cx="943.4" cy="191.0" r="18.3"/><circle cx="965.7" cy="170.4" r="18.3"/><circle cx="986.3" cy="168.7" r="18.3"/><circle cx="972.6" cy="179.0" r="18.3"/><circle cx="915.9" cy="232.2" r="18.3"/><circle cx="910.8" cy="247.7" r="18.3"/><circle cx="948.6" cy="203.0" r="18.3"/><circle cx="929.7" cy="216.8" r="18.3"/><circle cx="1139.0" cy="229.2" r="18.3"/><circle cx="1146.8" cy="252.9" r="18.3"/><circle cx="1152.6" cy="287.5" r="18.3"/><circle cx="1171.3" cy="239.9" r="18.3"/><circle cx="1168.5" cy="267.3" r="18.3"/><circle cx="1203.1" cy="251.4" r="18.3"/><circle cx="1217.5" cy="261.5" r="18.3"/><circle cx="1197.3" cy="287.5" r="18.3"/><circle cx="1210.3" cy="304.8" r="18.3"/><circle cx="1230.5" cy="314.9" r="18.3"/><circle cx="1223.3" cy="332.2" r="18.3"/><circle cx="1243.5" cy="345.2" r="18.3"/><circle cx="1255.0" cy="362.5" r="18.3"/><circle cx="1268.0" cy="304.8" r="18.3"/><circle cx="1272.3" cy="336.5" r="18.3"/><circle cx="1288.2" cy="284.6" r="18.3"/><circle cx="1295.4" cy="336.5" r="18.3"/><circle cx="1120.3" cy="138.9" r="18.3"/><circle cx="1128.1" cy="149.0" r="18.3"/><circle cx="1133.3" cy="177.3" r="18.3"/><circle cx="1114.2" cy="410.1" r="18.3"/><circle cx="1081.9" cy="558.6" r="18.3"/><circle cx="1101.5" cy="569.6" r="18.3"/><circle cx="1062.6" cy="606.8" r="18.3"/><circle cx="1074.7" cy="643.7" r="18.3"/><circle cx="1108.7" cy="680.4" r="18.3"/><circle cx="1089.1" cy="734.6" r="18.3"/><circle cx="1068.9" cy="760.6" r="18.3"/><circle cx="1094.9" cy="756.2" r="18.3"/><circle cx="1185.8" cy="261.5" r="18.3"/><circle cx="1185.8" cy="284.6" r="18.3"/><circle cx="1252.1" cy="327.9" r="18.3"/><circle cx="1283.8" cy="313.5" r="18.3"/><circle cx="1263.7" cy="304.5" r="18.3"/><circle cx="1299.8" cy="337.2" r="18.3"/><circle cx="1287.8" cy="290.8" r="18.3"/><circle cx="1311.8" cy="271.9" r="18.3"/><circle cx="1344.4" cy="320.0" r="18.3"/><circle cx="1332.4" cy="287.4" r="18.3"/><circle cx="1363.3" cy="283.9" r="18.3"/><circle cx="1387.4" cy="309.7" r="18.3"/><circle cx="1401.1" cy="283.9" r="18.3"/><circle cx="1428.6" cy="314.8" r="18.3"/><circle cx="1440.6" cy="287.4" r="18.3"/><circle cx="1466.3" cy="251.3" r="18.3"/><circle cx="1480.1" cy="301.1" r="18.3"/><circle cx="1487.0" cy="256.5" r="18.3"/><circle cx="1492.1" cy="309.7" r="18.3"/><circle cx="1505.8" cy="294.2" r="18.3"/><circle cx="1529.9" cy="239.3" r="18.3"/><circle cx="1536.7" cy="266.8" r="18.3"/><circle cx="1552.2" cy="251.3" r="18.3"/><circle cx="1562.5" cy="294.2" r="18.3"/><circle cx="1576.2" cy="277.1" r="18.3"/><circle cx="1588.3" cy="218.7" r="18.3"/><circle cx="1602.0" cy="212.8" r="18.3"/><circle cx="1595.1" cy="314.8" r="18.3"/><circle cx="1608.9" cy="256.5" r="18.3"/><circle cx="1620.9" cy="246.2" r="18.3"/><circle cx="1651.8" cy="278.8" r="18.3"/><circle cx="1658.7" cy="259.9" r="18.3"/><circle cx="1672.4" cy="283.9" r="18.3"/><circle cx="1691.3" cy="266.8" r="18.3"/><circle cx="1699.9" cy="290.8" r="18.3"/><circle cx="1710.2" cy="309.7" r="18.3"/><circle cx="1737.6" cy="304.5" r="18.3"/><circle cx="1744.5" cy="280.5" r="18.3"/><circle cx="1294.6" cy="311.4" r="18.3"/><circle cx="1318.7" cy="297.7" r="18.3"/><circle cx="1353.0" cy="294.2" r="18.3"/><circle cx="1377.1" cy="290.8" r="18.3"/><circle cx="1414.8" cy="287.4" r="18.3"/><circle cx="1456.0" cy="280.5" r="18.3"/><circle cx="1469.8" cy="273.6" r="18.3"/><circle cx="1511.0" cy="270.2" r="18.3"/><circle cx="1593.4" cy="253.0" r="18.3"/><circle cx="1634.6" cy="263.3" r="18.3"/><circle cx="1723.9" cy="287.4" r="18.3"/><circle cx="1666.3" cy="284.1" r="18.3"/><circle cx="1728.2" cy="304.7" r="18.3"/><circle cx="1739.3" cy="288.8" r="18.3"/><circle cx="1767.9" cy="309.5" r="18.3"/><circle cx="1755.2" cy="285.7" r="18.3"/><circle cx="1780.6" cy="292.0" r="18.3"/><circle cx="1806.0" cy="266.6" r="18.3"/><circle cx="1806.0" cy="288.8" r="18.3"/><circle cx="1828.2" cy="266.6" r="18.3"/><circle cx="1844.0" cy="309.5" r="18.3"/><circle cx="1850.4" cy="282.5" r="18.3"/><circle cx="1869.4" cy="298.4" r="18.3"/><circle cx="1878.9" cy="253.9" r="18.3"/><circle cx="1898.0" cy="253.9" r="18.3"/><circle cx="1891.0" cy="330.1" r="18.3"/><circle cx="1913.8" cy="276.2" r="18.3"/><circle cx="1929.7" cy="268.2" r="18.3"/><circle cx="1945.6" cy="257.1" r="18.3"/><circle cx="1955.1" cy="282.5" r="18.3"/><circle cx="1980.5" cy="277.7" r="18.3"/><circle cx="1977.3" cy="257.1" r="18.3"/><circle cx="2002.7" cy="263.5" r="18.3"/><circle cx="2024.9" cy="293.6" r="18.3"/><circle cx="2024.9" cy="257.1" r="18.3"/><circle cx="2040.8" cy="253.9" r="18.3"/><circle cx="2045.5" cy="273.0" r="18.3"/><circle cx="1679.0" cy="273.0" r="18.3"/><circle cx="1713.9" cy="282.5" r="18.3"/><circle cx="1786.9" cy="273.0" r="18.3"/><circle cx="2009.0" cy="279.3" r="18.3"/><circle cx="1964.6" cy="263.5" r="18.3"/></g>
<path d="M150.0,258.0C241.7,258.0 591.7,257.8 700.0,258.0C808.3,258.2 770.0,258.8 800.0,259.5C830.0,260.2 858.8,261.3 880.0,262.5C901.2,263.7 915.0,264.9 927.5,266.5C940.0,268.1 945.9,269.1 955.0,272.0C964.1,274.9 974.6,279.2 982.4,284.0C990.2,288.8 996.1,294.5 1001.6,300.5C1007.1,306.5 1011.3,313.0 1015.4,320.0C1019.5,327.0 1023.2,335.0 1026.4,342.5C1029.6,350.0 1032.2,356.9 1034.6,364.8C1037.0,372.7 1039.2,381.6 1041.0,390.0C1042.8,398.4 1044.0,407.5 1045.2,415.0C1046.4,422.5 1047.1,427.2 1048.2,435.0C1049.3,442.8 1050.6,452.9 1051.7,462.0C1052.8,471.1 1053.7,476.1 1055.0,489.9C1056.3,503.7 1058.3,526.5 1059.8,544.8C1061.3,563.1 1062.8,583.9 1064.0,599.8C1065.2,615.7 1065.8,627.1 1066.7,640.0C1067.6,652.9 1068.2,661.1 1069.5,676.9C1070.8,692.7 1072.5,717.4 1074.5,734.6C1076.5,751.8 1080.3,772.4 1081.5,780.0C1082.4,772.4 1085.2,751.8 1087.0,734.6C1088.8,717.4 1090.6,692.7 1092.0,676.9C1093.4,661.1 1094.5,652.9 1095.6,640.0C1096.6,627.1 1097.0,615.7 1098.3,599.8C1099.5,583.9 1101.5,563.1 1103.1,544.8C1104.7,526.5 1106.7,503.7 1107.9,489.9C1109.1,476.1 1109.3,471.1 1110.2,462.0C1111.1,452.9 1112.0,444.0 1113.2,435.0C1114.4,426.0 1115.8,416.3 1117.3,408.0C1118.8,399.7 1120.8,391.8 1122.3,385.0C1123.8,378.2 1125.1,372.7 1126.6,367.0C1128.1,361.3 1129.6,355.9 1131.3,351.0C1133.0,346.1 1134.6,341.7 1136.5,337.4C1138.4,333.1 1140.4,329.0 1142.5,325.0C1144.6,321.0 1145.9,317.9 1149.0,313.5C1152.1,309.1 1155.8,303.6 1161.0,298.9C1166.2,294.2 1173.3,288.9 1180.2,285.2C1187.1,281.5 1194.0,279.0 1202.2,276.5C1210.5,274.0 1220.6,271.8 1229.7,270.0C1238.8,268.2 1245.3,267.2 1257.0,265.9C1268.7,264.6 1278.3,262.9 1300.0,262.0C1321.7,261.1 1353.7,261.1 1387.0,260.6C1420.3,260.1 1439.5,259.4 1500.0,259.0C1560.5,258.6 1665.7,258.4 1750.0,258.2C1834.3,258.0 1963.3,257.9 2006.0,257.8" fill="none" stroke="#058405" stroke-width="11.5" stroke-linejoin="round"/>
</g>
<rect x="1644.5" y="33.8" width="407" height="202.3" fill="#fff" stroke="#000" stroke-width="2.6"/>
<circle cx="1741.8" cy="87.5" r="18.8" fill="#049304"/>
<rect x="1725.0" y="165.9" width="33" height="33" fill="#ff7f07"/>
<text transform="translate(1845.3,114) scale(1.06,1)" font-size="75">αMnS</text>
<text transform="translate(1846.9,208.3) scale(1.044,1)" font-size="75">γMnS</text>
<text x="123" y="145.6" font-size="128">(a)</text>
<text x="58" y="704.3" font-size="91" text-anchor="middle">T</text>
<text transform="translate(1022,1734.6) scale(1.0476,1)" font-size="90" text-anchor="middle">Z(mm)</text>
<clipPath id="clipb"><rect x="120" y="1927" width="1926" height="1508.4"/></clipPath>
<rect x="120" y="1927" width="1926" height="1508.4" fill="none" stroke="#000" stroke-width="6.6"/>
<line x1="120.0" y1="3435.4" x2="120.0" y2="3464.9" stroke="#000" stroke-width="6.6"/>
<text transform="translate(120.5,3532.1) scale(1.0,1)" font-size="64" text-anchor="middle">-150</text>
<line x1="280.5" y1="3435.4" x2="280.5" y2="3449.9" stroke="#000" stroke-width="6.6"/>
<line x1="441.0" y1="3435.4" x2="441.0" y2="3464.9" stroke="#000" stroke-width="6.6"/>
<text transform="translate(441.5,3532.1) scale(1.0,1)" font-size="64" text-anchor="middle">-100</text>
<line x1="601.5" y1="3435.4" x2="601.5" y2="3449.9" stroke="#000" stroke-width="6.6"/>
<line x1="762.0" y1="3435.4" x2="762.0" y2="3464.9" stroke="#000" stroke-width="6.6"/>
<text transform="translate(762.5,3532.1) scale(0.96,1)" font-size="64" text-anchor="middle">-50</text>
<line x1="922.5" y1="3435.4" x2="922.5" y2="3449.9" stroke="#000" stroke-width="6.6"/>
<line x1="1083.0" y1="3435.4" x2="1083.0" y2="3464.9" stroke="#000" stroke-width="6.6"/>
<text transform="translate(1083.5,3532.1) scale(0.96,1)" font-size="64" text-anchor="middle">0</text>
<line x1="1243.5" y1="3435.4" x2="1243.5" y2="3449.9" stroke="#000" stroke-width="6.6"/>
<line x1="1404.0" y1="3435.4" x2="1404.0" y2="3464.9" stroke="#000" stroke-width="6.6"/>
<text transform="translate(1404.5,3532.1) scale(0.96,1)" font-size="64" text-anchor="middle">50</text>
<line x1="1564.5" y1="3435.4" x2="1564.5" y2="3449.9" stroke="#000" stroke-width="6.6"/>
<line x1="1725.0" y1="3435.4" x2="1725.0" y2="3464.9" stroke="#000" stroke-width="6.6"/>
<text transform="translate(1725.5,3532.1) scale(0.96,1)" font-size="64" text-anchor="middle">100</text>
<line x1="1885.5" y1="3435.4" x2="1885.5" y2="3449.9" stroke="#000" stroke-width="6.6"/>
<line x1="2046.0" y1="3435.4" x2="2046.0" y2="3464.9" stroke="#000" stroke-width="6.6"/>
<text transform="translate(2046.5,3532.1) scale(0.96,1)" font-size="64" text-anchor="middle">150</text>
<g clip-path="url(#clipb)">
<g fill="#ff7f07"><rect x="126.7" y="2956.2" width="33.2" height="33.2"/><rect x="133.1" y="2963.3" width="33.2" height="33.2"/><rect x="139.5" y="2941.6" width="33.2" height="33.2"/><rect x="145.9" y="2977.8" width="33.2" height="33.2"/><rect x="152.3" y="2965.4" width="33.2" height="33.2"/><rect x="171.6" y="2943.0" width="33.2" height="33.2"/><rect x="235.8" y="3008.9" width="33.2" height="33.2"/><rect x="242.2" y="2972.1" width="33.2" height="33.2"/><rect x="248.6" y="3001.6" width="33.2" height="33.2"/><rect x="255.1" y="2986.7" width="33.2" height="33.2"/><rect x="261.5" y="3014.5" width="33.2" height="33.2"/><rect x="267.9" y="3003.9" width="33.2" height="33.2"/><rect x="274.3" y="2990.5" width="33.2" height="33.2"/><rect x="280.7" y="2959.0" width="33.2" height="33.2"/><rect x="287.2" y="3010.6" width="33.2" height="33.2"/><rect x="293.6" y="2979.7" width="33.2" height="33.2"/><rect x="300.0" y="2961.8" width="33.2" height="33.2"/><rect x="306.4" y="2999.9" width="33.2" height="33.2"/><rect x="312.8" y="2983.9" width="33.2" height="33.2"/><rect x="319.3" y="2985.3" width="33.2" height="33.2"/><rect x="338.5" y="2975.7" width="33.2" height="33.2"/><rect x="344.9" y="2986.0" width="33.2" height="33.2"/><rect x="357.8" y="2976.6" width="33.2" height="33.2"/><rect x="364.2" y="3005.2" width="33.2" height="33.2"/><rect x="370.6" y="2984.5" width="33.2" height="33.2"/><rect x="377.0" y="3016.8" width="33.2" height="33.2"/><rect x="383.5" y="2989.8" width="33.2" height="33.2"/><rect x="389.9" y="2958.7" width="33.2" height="33.2"/><rect x="396.3" y="3020.8" width="33.2" height="33.2"/><rect x="402.7" y="2973.4" width="33.2" height="33.2"/><rect x="409.1" y="3011.1" width="33.2" height="33.2"/><rect x="415.6" y="2970.2" width="33.2" height="33.2"/><rect x="422.0" y="2984.6" width="33.2" height="33.2"/><rect x="434.8" y="2992.3" width="33.2" height="33.2"/><rect x="441.2" y="3008.6" width="33.2" height="33.2"/><rect x="447.7" y="2997.6" width="33.2" height="33.2"/><rect x="454.1" y="3018.8" width="33.2" height="33.2"/><rect x="460.5" y="2992.2" width="33.2" height="33.2"/><rect x="466.9" y="2967.0" width="33.2" height="33.2"/><rect x="473.3" y="2993.0" width="33.2" height="33.2"/><rect x="479.8" y="2979.2" width="33.2" height="33.2"/><rect x="486.2" y="3000.7" width="33.2" height="33.2"/><rect x="492.6" y="2992.2" width="33.2" height="33.2"/><rect x="499.0" y="3010.7" width="33.2" height="33.2"/><rect x="505.4" y="2968.0" width="33.2" height="33.2"/><rect x="511.9" y="2980.0" width="33.2" height="33.2"/><rect x="518.3" y="2943.3" width="33.2" height="33.2"/><rect x="524.7" y="2957.6" width="33.2" height="33.2"/><rect x="531.1" y="2996.8" width="33.2" height="33.2"/><rect x="537.5" y="2967.7" width="33.2" height="33.2"/><rect x="544.0" y="3031.7" width="33.2" height="33.2"/><rect x="550.4" y="3014.7" width="33.2" height="33.2"/><rect x="556.8" y="3030.1" width="33.2" height="33.2"/><rect x="563.2" y="2979.8" width="33.2" height="33.2"/><rect x="569.6" y="3029.1" width="33.2" height="33.2"/><rect x="576.1" y="3009.6" width="33.2" height="33.2"/><rect x="582.5" y="3018.8" width="33.2" height="33.2"/><rect x="588.9" y="2990.8" width="33.2" height="33.2"/><rect x="595.3" y="3041.6" width="33.2" height="33.2"/><rect x="601.7" y="3006.7" width="33.2" height="33.2"/><rect x="608.2" y="2976.7" width="33.2" height="33.2"/><rect x="614.6" y="3026.5" width="33.2" height="33.2"/><rect x="621.0" y="2988.6" width="33.2" height="33.2"/><rect x="627.4" y="3014.7" width="33.2" height="33.2"/><rect x="633.8" y="2979.3" width="33.2" height="33.2"/><rect x="640.3" y="2997.2" width="33.2" height="33.2"/><rect x="646.7" y="2982.2" width="33.2" height="33.2"/><rect x="653.1" y="3014.0" width="33.2" height="33.2"/><rect x="659.5" y="2969.6" width="33.2" height="33.2"/><rect x="665.9" y="3044.9" width="33.2" height="33.2"/><rect x="672.4" y="3050.6" width="33.2" height="33.2"/><rect x="1404.2" y="2988.5" width="33.2" height="33.2"/><rect x="1410.7" y="3012.6" width="33.2" height="33.2"/><rect x="1417.1" y="3009.6" width="33.2" height="33.2"/><rect x="1423.5" y="3041.9" width="33.2" height="33.2"/><rect x="1429.9" y="3035.9" width="33.2" height="33.2"/><rect x="1436.3" y="3052.4" width="33.2" height="33.2"/><rect x="1442.8" y="3024.5" width="33.2" height="33.2"/><rect x="1449.2" y="3036.1" width="33.2" height="33.2"/><rect x="1455.6" y="3000.6" width="33.2" height="33.2"/><rect x="1462.0" y="3044.3" width="33.2" height="33.2"/><rect x="1468.4" y="3033.1" width="33.2" height="33.2"/><rect x="1474.9" y="2997.1" width="33.2" height="33.2"/><rect x="1481.3" y="3038.9" width="33.2" height="33.2"/><rect x="1487.7" y="3007.9" width="33.2" height="33.2"/><rect x="1494.1" y="3044.0" width="33.2" height="33.2"/><rect x="1500.5" y="3006.6" width="33.2" height="33.2"/><rect x="1507.0" y="3052.2" width="33.2" height="33.2"/><rect x="1513.4" y="3023.3" width="33.2" height="33.2"/><rect x="1519.8" y="3028.8" width="33.2" height="33.2"/><rect x="1526.2" y="2995.5" width="33.2" height="33.2"/><rect x="1532.6" y="3070.0" width="33.2" height="33.2"/><rect x="1539.1" y="3035.6" width="33.2" height="33.2"/><rect x="1545.5" y="3006.6" width="33.2" height="33.2"/><rect x="1551.9" y="3081.2" width="33.2" height="33.2"/><rect x="1558.3" y="3041.4" width="33.2" height="33.2"/><rect x="1564.7" y="3068.8" width="33.2" height="33.2"/><rect x="1571.2" y="3034.5" width="33.2" height="33.2"/><rect x="1577.6" y="3051.0" width="33.2" height="33.2"/><rect x="1584.0" y="3039.0" width="33.2" height="33.2"/><rect x="1590.4" y="3048.0" width="33.2" height="33.2"/><rect x="1596.8" y="3020.5" width="33.2" height="33.2"/><rect x="1609.7" y="3065.2" width="33.2" height="33.2"/><rect x="1616.1" y="3037.2" width="33.2" height="33.2"/><rect x="1622.5" y="3017.4" width="33.2" height="33.2"/><rect x="1628.9" y="3041.4" width="33.2" height="33.2"/><rect x="1635.4" y="3021.4" width="33.2" height="33.2"/><rect x="1641.8" y="3036.4" width="33.2" height="33.2"/><rect x="1648.2" y="3021.3" width="33.2" height="33.2"/><rect x="1654.6" y="3054.8" width="33.2" height="33.2"/><rect x="1661.0" y="3028.9" width="33.2" height="33.2"/><rect x="1667.5" y="3049.9" width="33.2" height="33.2"/><rect x="1673.9" y="3006.8" width="33.2" height="33.2"/><rect x="1680.3" y="3077.3" width="33.2" height="33.2"/><rect x="1686.7" y="3042.1" width="33.2" height="33.2"/><rect x="1693.1" y="3019.6" width="33.2" height="33.2"/><rect x="1699.6" y="3043.8" width="33.2" height="33.2"/><rect x="1706.0" y="3022.3" width="33.2" height="33.2"/><rect x="1712.4" y="3044.8" width="33.2" height="33.2"/><rect x="1718.8" y="3050.4" width="33.2" height="33.2"/><rect x="1725.2" y="3057.0" width="33.2" height="33.2"/><rect x="1731.7" y="3029.7" width="33.2" height="33.2"/><rect x="1738.1" y="3038.9" width="33.2" height="33.2"/><rect x="1744.5" y="3010.9" width="33.2" height="33.2"/><rect x="1750.9" y="3054.1" width="33.2" height="33.2"/><rect x="1757.3" y="3032.4" width="33.2" height="33.2"/><rect x="1763.8" y="3029.9" width="33.2" height="33.2"/><rect x="1770.2" y="3069.8" width="33.2" height="33.2"/><rect x="1776.6" y="3041.1" width="33.2" height="33.2"/><rect x="1783.0" y="3058.8" width="33.2" height="33.2"/><rect x="1789.4" y="3030.7" width="33.2" height="33.2"/><rect x="1795.9" y="3064.4" width="33.2" height="33.2"/><rect x="1802.3" y="3022.3" width="33.2" height="33.2"/><rect x="1808.7" y="3035.7" width="33.2" height="33.2"/><rect x="1815.1" y="3010.6" width="33.2" height="33.2"/><rect x="1821.5" y="3076.4" width="33.2" height="33.2"/><rect x="1828.0" y="3044.1" width="33.2" height="33.2"/><rect x="1834.4" y="3024.5" width="33.2" height="33.2"/><rect x="1840.8" y="3072.4" width="33.2" height="33.2"/><rect x="1847.2" y="3051.4" width="33.2" height="33.2"/><rect x="1853.6" y="3064.3" width="33.2" height="33.2"/><rect x="1860.1" y="3046.4" width="33.2" height="33.2"/><rect x="1866.5" y="3067.9" width="33.2" height="33.2"/><rect x="1872.9" y="3048.5" width="33.2" height="33.2"/><rect x="1879.3" y="3077.3" width="33.2" height="33.2"/><rect x="1885.7" y="3040.4" width="33.2" height="33.2"/><rect x="1892.2" y="3085.4" width="33.2" height="33.2"/><rect x="1898.6" y="3062.9" width="33.2" height="33.2"/><rect x="1905.0" y="3043.9" width="33.2" height="33.2"/><rect x="1911.4" y="3071.7" width="33.2" height="33.2"/><rect x="1917.8" y="3060.7" width="33.2" height="33.2"/><rect x="1924.3" y="3069.6" width="33.2" height="33.2"/><rect x="1930.7" y="3058.5" width="33.2" height="33.2"/><rect x="1937.1" y="3083.7" width="33.2" height="33.2"/><rect x="1943.5" y="3054.1" width="33.2" height="33.2"/><rect x="1949.9" y="3066.3" width="33.2" height="33.2"/><rect x="1956.4" y="3030.6" width="33.2" height="33.2"/><rect x="1962.8" y="3089.1" width="33.2" height="33.2"/><rect x="1969.2" y="3059.8" width="33.2" height="33.2"/><rect x="1975.6" y="3037.9" width="33.2" height="33.2"/><rect x="1982.0" y="3062.1" width="33.2" height="33.2"/><rect x="1988.5" y="3052.5" width="33.2" height="33.2"/><rect x="1994.9" y="3056.5" width="33.2" height="33.2"/><rect x="2001.3" y="3041.8" width="33.2" height="33.2"/><rect x="2007.7" y="3066.7" width="33.2" height="33.2"/><rect x="2014.1" y="3050.9" width="33.2" height="33.2"/><rect x="2020.6" y="3058.4" width="33.2" height="33.2"/><rect x="2027.0" y="3045.7" width="33.2" height="33.2"/><rect x="108.9" y="2937.9" width="33.2" height="33.2"/><rect x="115.7" y="3004.9" width="33.2" height="33.2"/><rect x="129.5" y="2939.7" width="33.2" height="33.2"/><rect x="141.5" y="2979.1" width="33.2" height="33.2"/><rect x="181.0" y="2941.4" width="33.2" height="33.2"/><rect x="162.1" y="2955.1" width="33.2" height="33.2"/><rect x="174.1" y="2994.6" width="33.2" height="33.2"/><rect x="206.0" y="3035.1" width="33.2" height="33.2"/><rect x="218.7" y="2955.1" width="33.2" height="33.2"/><rect x="237.6" y="2950.0" width="33.2" height="33.2"/><rect x="210.2" y="2992.9" width="33.2" height="33.2"/><rect x="249.7" y="2977.4" width="33.2" height="33.2"/><rect x="244.5" y="3016.9" width="33.2" height="33.2"/><rect x="257.2" y="3023.8" width="33.2" height="33.2"/><rect x="275.4" y="3013.5" width="33.2" height="33.2"/><rect x="289.1" y="2956.1" width="33.2" height="33.2"/><rect x="275.4" y="2989.4" width="33.2" height="33.2"/><rect x="296.0" y="3058.1" width="33.2" height="33.2"/><rect x="308.0" y="2975.7" width="33.2" height="33.2"/><rect x="326.9" y="3023.8" width="33.2" height="33.2"/><rect x="347.5" y="2972.3" width="33.2" height="33.2"/><rect x="333.8" y="2989.4" width="33.2" height="33.2"/><rect x="373.3" y="3020.4" width="33.2" height="33.2"/><rect x="391.5" y="2948.9" width="33.2" height="33.2"/><rect x="398.3" y="3030.7" width="33.2" height="33.2"/><rect x="411.1" y="2965.4" width="33.2" height="33.2"/><rect x="368.1" y="2982.6" width="33.2" height="33.2"/><rect x="402.5" y="2989.4" width="33.2" height="33.2"/><rect x="429.9" y="2989.4" width="33.2" height="33.2"/><rect x="450.5" y="3021.4" width="33.2" height="33.2"/><rect x="464.3" y="2968.8" width="33.2" height="33.2"/><rect x="475.3" y="2963.0" width="33.2" height="33.2"/><rect x="488.3" y="3016.9" width="33.2" height="33.2"/><rect x="488.3" y="2986.0" width="33.2" height="33.2"/><rect x="514.1" y="2940.0" width="33.2" height="33.2"/><rect x="533.0" y="2958.5" width="33.2" height="33.2"/><rect x="505.5" y="3006.6" width="33.2" height="33.2"/><rect x="539.8" y="3035.1" width="33.2" height="33.2"/><rect x="558.7" y="3041.6" width="33.2" height="33.2"/><rect x="572.5" y="2964.4" width="33.2" height="33.2"/><rect x="587.9" y="3044.4" width="33.2" height="33.2"/><rect x="574.2" y="2996.3" width="33.2" height="33.2"/><rect x="543.3" y="3003.2" width="33.2" height="33.2"/><rect x="141.5" y="2951.7" width="33.2" height="33.2"/><rect x="299.4" y="3003.2" width="33.2" height="33.2"/><rect x="443.7" y="2996.3" width="33.2" height="33.2"/><rect x="471.1" y="2996.3" width="33.2" height="33.2"/><rect x="573.7" y="3039.4" width="33.2" height="33.2"/><rect x="614.9" y="2969.0" width="33.2" height="33.2"/><rect x="648.6" y="2965.6" width="33.2" height="33.2"/><rect x="623.5" y="3034.3" width="33.2" height="33.2"/><rect x="597.7" y="3005.1" width="33.2" height="33.2"/><rect x="632.1" y="3005.1" width="33.2" height="33.2"/><rect x="642.4" y="3086.5" width="33.2" height="33.2"/><rect x="663.0" y="3046.3" width="33.2" height="33.2"/><rect x="668.1" y="3017.1" width="33.2" height="33.2"/><rect x="675.0" y="3029.1" width="33.2" height="33.2"/><rect x="681.9" y="3084.1" width="33.2" height="33.2"/><rect x="700.8" y="3070.4" width="33.2" height="33.2"/><rect x="712.8" y="3111.6" width="33.2" height="33.2"/><rect x="732.7" y="3135.6" width="33.2" height="33.2"/><rect x="721.4" y="3073.8" width="33.2" height="33.2"/><rect x="743.7" y="3087.5" width="33.2" height="33.2"/><rect x="758.1" y="3010.3" width="33.2" height="33.2"/><rect x="776.3" y="3010.3" width="33.2" height="33.2"/><rect x="790.0" y="3025.7" width="33.2" height="33.2"/><rect x="766.0" y="3056.6" width="33.2" height="33.2"/><rect x="796.9" y="3049.7" width="33.2" height="33.2"/><rect x="803.8" y="2965.6" width="33.2" height="33.2"/><rect x="809.6" y="2957.0" width="33.2" height="33.2"/><rect x="815.8" y="3063.5" width="33.2" height="33.2"/><rect x="848.4" y="3082.4" width="33.2" height="33.2"/><rect x="827.8" y="3130.4" width="33.2" height="33.2"/><rect x="821.6" y="3161.4" width="33.2" height="33.2"/><rect x="835.7" y="3235.2" width="33.2" height="33.2"/><rect x="874.2" y="3120.1" width="33.2" height="33.2"/><rect x="853.6" y="3022.3" width="33.2" height="33.2"/><rect x="867.3" y="3001.7" width="33.2" height="33.2"/><rect x="860.4" y="3032.6" width="33.2" height="33.2"/><rect x="886.2" y="3032.6" width="33.2" height="33.2"/><rect x="880.0" y="2965.6" width="33.2" height="33.2"/><rect x="892.4" y="3194.0" width="33.2" height="33.2"/><rect x="898.2" y="3188.8" width="33.2" height="33.2"/><rect x="906.8" y="3209.4" width="33.2" height="33.2"/><rect x="912.0" y="3224.9" width="33.2" height="33.2"/><rect x="918.8" y="3255.8" width="33.2" height="33.2"/><rect x="918.8" y="3279.8" width="33.2" height="33.2"/><rect x="951.4" y="3243.8" width="33.2" height="33.2"/><rect x="956.6" y="3269.5" width="33.2" height="33.2"/><rect x="963.5" y="3192.3" width="33.2" height="33.2"/><rect x="975.5" y="3218.0" width="33.2" height="33.2"/><rect x="968.6" y="3151.1" width="33.2" height="33.2"/><rect x="989.2" y="3149.3" width="33.2" height="33.2"/><rect x="994.4" y="3135.6" width="33.2" height="33.2"/><rect x="1003.0" y="3108.1" width="33.2" height="33.2"/><rect x="1008.1" y="3054.9" width="33.2" height="33.2"/><rect x="1027.0" y="3072.1" width="33.2" height="33.2"/><rect x="1021.8" y="3018.8" width="33.2" height="33.2"/><rect x="1040.7" y="3001.7" width="33.2" height="33.2"/><rect x="1054.5" y="3029.1" width="33.2" height="33.2"/><rect x="1057.9" y="2958.7" width="33.2" height="33.2"/><rect x="584.0" y="2987.9" width="33.2" height="33.2"/><rect x="608.0" y="3032.6" width="33.2" height="33.2"/><rect x="838.1" y="3104.7" width="33.2" height="33.2"/><rect x="899.4" y="3193.3" width="33.2" height="33.2"/><rect x="924.7" y="3243.8" width="33.2" height="33.2"/><rect x="918.1" y="3285.6" width="33.2" height="33.2"/><rect x="944.5" y="3301.0" width="33.2" height="33.2"/><rect x="986.3" y="3177.9" width="33.2" height="33.2"/><rect x="1014.8" y="3094.4" width="33.2" height="33.2"/><rect x="931.3" y="3270.2" width="33.2" height="33.2"/><rect x="1162.7" y="2705.5" width="33.2" height="33.2"/><rect x="1131.1" y="2726.1" width="33.2" height="33.2"/><rect x="1144.8" y="2746.7" width="33.2" height="33.2"/><rect x="1155.1" y="2750.2" width="33.2" height="33.2"/><rect x="1168.8" y="2786.2" width="33.2" height="33.2"/><rect x="1175.0" y="2803.4" width="33.2" height="33.2"/><rect x="1187.7" y="2822.3" width="33.2" height="33.2"/><rect x="1181.9" y="2827.4" width="33.2" height="33.2"/><rect x="1111.1" y="2791.4" width="33.2" height="33.2"/><rect x="1124.2" y="2822.3" width="33.2" height="33.2"/><rect x="1103.6" y="2846.3" width="33.2" height="33.2"/><rect x="1117.3" y="2872.1" width="33.2" height="33.2"/><rect x="1098.4" y="2873.8" width="33.2" height="33.2"/><rect x="1091.6" y="2889.2" width="33.2" height="33.2"/><rect x="1085.4" y="2920.1" width="33.2" height="33.2"/><rect x="1072.0" y="2957.9" width="33.2" height="33.2"/><rect x="1077.8" y="2978.5" width="33.2" height="33.2"/><rect x="1065.8" y="3014.6" width="33.2" height="33.2"/><rect x="1046.9" y="3028.3" width="33.2" height="33.2"/><rect x="1251.9" y="2860.7" width="33.2" height="33.2"/><rect x="1246.1" y="2894.4" width="33.2" height="33.2"/><rect x="1239.2" y="2913.3" width="33.2" height="33.2"/><rect x="1206.6" y="2908.1" width="33.2" height="33.2"/><rect x="1233.4" y="2947.6" width="33.2" height="33.2"/><rect x="1194.6" y="2999.8" width="33.2" height="33.2"/><rect x="1220.4" y="2999.8" width="33.2" height="33.2"/><rect x="1227.2" y="3009.4" width="33.2" height="33.2"/><rect x="1213.5" y="3030.0" width="33.2" height="33.2"/><rect x="1201.5" y="3065.4" width="33.2" height="33.2"/><rect x="1268.4" y="3066.1" width="33.2" height="33.2"/><rect x="1258.1" y="2968.2" width="33.2" height="33.2"/><rect x="1278.7" y="2987.1" width="33.2" height="33.2"/><rect x="1285.6" y="3007.7" width="33.2" height="33.2"/><rect x="1297.6" y="3021.4" width="33.2" height="33.2"/><rect x="1316.5" y="3021.4" width="33.2" height="33.2"/><rect x="1309.6" y="2976.8" width="33.2" height="33.2"/><rect x="1330.2" y="2942.5" width="33.2" height="33.2"/><rect x="1342.3" y="2889.2" width="33.2" height="33.2"/><rect x="1361.1" y="2915.7" width="33.2" height="33.2"/><rect x="1361.1" y="2959.6" width="33.2" height="33.2"/><rect x="1393.8" y="2945.9" width="33.2" height="33.2"/><rect x="1381.8" y="2976.8" width="33.2" height="33.2"/><rect x="1398.9" y="3011.1" width="33.2" height="33.2"/><rect x="1412.7" y="2985.4" width="33.2" height="33.2"/><rect x="1405.8" y="3016.3" width="33.2" height="33.2"/><rect x="1431.5" y="2943.5" width="33.2" height="33.2"/><rect x="1438.4" y="3028.3" width="33.2" height="33.2"/><rect x="1450.4" y="2997.4" width="33.2" height="33.2"/><rect x="1426.4" y="3066.1" width="33.2" height="33.2"/><rect x="1464.2" y="3045.5" width="33.2" height="33.2"/><rect x="1477.9" y="2990.5" width="33.2" height="33.2"/><rect x="1477.9" y="3045.5" width="33.2" height="33.2"/><rect x="1326.8" y="2963.1" width="33.2" height="33.2"/><rect x="1344.0" y="2980.2" width="33.2" height="33.2"/><rect x="1399.9" y="3004.3" width="33.2" height="33.2"/><rect x="1457.6" y="3062.0" width="33.2" height="33.2"/><rect x="1483.7" y="2989.2" width="33.2" height="33.2"/><rect x="1476.8" y="3020.8" width="33.2" height="33.2"/><rect x="1502.1" y="3067.5" width="33.2" height="33.2"/><rect x="1515.3" y="2991.4" width="33.2" height="33.2"/><rect x="1507.0" y="3026.3" width="33.2" height="33.2"/><rect x="1534.5" y="2997.4" width="33.2" height="33.2"/><rect x="1526.3" y="3053.7" width="33.2" height="33.2"/><rect x="1540.8" y="3073.8" width="33.2" height="33.2"/><rect x="1560.6" y="3089.4" width="33.2" height="33.2"/><rect x="1559.2" y="3020.8" width="33.2" height="33.2"/><rect x="1575.7" y="3040.0" width="33.2" height="33.2"/><rect x="1586.7" y="3018.0" width="33.2" height="33.2"/><rect x="1575.7" y="3059.2" width="33.2" height="33.2"/><rect x="1598.2" y="3068.0" width="33.2" height="33.2"/><rect x="1611.4" y="3063.3" width="33.2" height="33.2"/><rect x="1623.8" y="3011.1" width="33.2" height="33.2"/><rect x="1619.7" y="3045.5" width="33.2" height="33.2"/><rect x="1644.4" y="3015.3" width="33.2" height="33.2"/><rect x="1647.1" y="3045.5" width="33.2" height="33.2"/><rect x="1663.6" y="3064.7" width="33.2" height="33.2"/><rect x="1675.4" y="3002.9" width="33.2" height="33.2"/><rect x="1682.0" y="3081.2" width="33.2" height="33.2"/><rect x="1701.5" y="3011.1" width="33.2" height="33.2"/><rect x="1685.6" y="3042.7" width="33.2" height="33.2"/><rect x="1713.1" y="3048.2" width="33.2" height="33.2"/><rect x="1726.8" y="3059.2" width="33.2" height="33.2"/><rect x="1746.0" y="3008.4" width="33.2" height="33.2"/><rect x="1740.5" y="3042.7" width="33.2" height="33.2"/><rect x="1762.5" y="3056.5" width="33.2" height="33.2"/><rect x="1778.2" y="2974.1" width="33.2" height="33.2"/><rect x="1783.4" y="3075.7" width="33.2" height="33.2"/><rect x="1493.3" y="3048.2" width="33.2" height="33.2"/><rect x="1465.8" y="3037.2" width="33.2" height="33.2"/><rect x="1768.0" y="3026.3" width="33.2" height="33.2"/><rect x="1733.3" y="3059.0" width="33.2" height="33.2"/><rect x="1797.6" y="3019.4" width="33.2" height="33.2"/><rect x="1816.9" y="3008.3" width="33.2" height="33.2"/><rect x="1829.7" y="3016.9" width="33.2" height="33.2"/><rect x="1822.3" y="3054.0" width="33.2" height="33.2"/><rect x="1835.9" y="3080.0" width="33.2" height="33.2"/><rect x="1855.7" y="3075.0" width="33.2" height="33.2"/><rect x="1868.6" y="2997.1" width="33.2" height="33.2"/><rect x="1861.9" y="3039.2" width="33.2" height="33.2"/><rect x="1894.0" y="3087.9" width="33.2" height="33.2"/><rect x="1899.7" y="3037.9" width="33.2" height="33.2"/><rect x="1916.3" y="3076.3" width="33.2" height="33.2"/><rect x="1926.2" y="3054.0" width="33.2" height="33.2"/><rect x="1946.0" y="3091.1" width="33.2" height="33.2"/><rect x="1964.5" y="3092.4" width="33.2" height="33.2"/><rect x="1933.6" y="3066.4" width="33.2" height="33.2"/><rect x="1957.8" y="3027.3" width="33.2" height="33.2"/><rect x="1970.7" y="3030.5" width="33.2" height="33.2"/><rect x="1983.0" y="3066.4" width="33.2" height="33.2"/><rect x="2009.0" y="3033.5" width="33.2" height="33.2"/><rect x="2005.3" y="3061.4" width="33.2" height="33.2"/><rect x="2012.7" y="3075.0" width="33.2" height="33.2"/><rect x="2020.1" y="3044.1" width="33.2" height="33.2"/><rect x="1884.1" y="3061.4" width="33.2" height="33.2"/><rect x="1797.6" y="3041.7" width="33.2" height="33.2"/><rect x="1985.5" y="3046.6" width="33.2" height="33.2"/><rect x="1136.4" y="2760.8" width="33.2" height="33.2"/></g>
<path d="M120.0,2990.0C166.7,2993.3 320.0,3002.0 400.0,3010.0C480.0,3018.0 556.7,3031.3 600.0,3038.0C643.3,3044.7 642.0,3046.3 660.0,3050.0C678.0,3053.7 693.4,3057.1 708.0,3060.4C722.6,3063.7 734.5,3065.7 747.5,3069.6C760.5,3073.5 774.3,3078.7 786.0,3083.7C797.7,3088.7 808.6,3094.8 817.8,3099.8C826.9,3104.8 832.3,3107.3 840.9,3113.8C849.5,3120.3 861.5,3130.7 869.5,3138.9C877.5,3147.1 884.1,3156.3 889.2,3162.9C894.3,3169.5 896.0,3172.7 900.2,3178.5C904.4,3184.3 909.5,3191.1 914.5,3198.0C919.5,3204.9 924.1,3210.5 930.0,3220.0C935.9,3229.5 944.0,3244.2 950.0,3255.0C956.0,3265.8 961.2,3276.4 966.0,3285.0C970.8,3293.6 975.1,3300.4 978.7,3306.6C982.3,3312.8 985.1,3318.3 987.5,3322.0C989.9,3325.7 990.8,3327.9 993.0,3328.6C995.2,3329.3 998.0,3329.0 1000.7,3326.4C1003.5,3323.8 1007.0,3318.5 1009.5,3313.0C1012.0,3307.5 1013.8,3301.4 1016.0,3293.4C1018.2,3285.4 1020.6,3275.1 1022.6,3264.8C1024.6,3254.6 1026.3,3242.9 1028.0,3231.9C1029.7,3220.9 1031.0,3210.0 1032.5,3199.0C1034.0,3188.0 1035.7,3177.0 1037.0,3166.0C1038.3,3155.0 1039.1,3144.0 1040.2,3133.0C1041.3,3122.0 1042.5,3113.8 1043.5,3100.0C1044.5,3086.2 1045.6,3066.7 1046.5,3050.0C1047.4,3033.3 1047.8,3016.7 1049.0,3000.0C1050.2,2983.3 1051.9,2966.7 1053.5,2950.0C1055.1,2933.3 1057.0,2915.7 1058.8,2900.0C1060.5,2884.3 1061.6,2873.1 1064.0,2856.0C1066.4,2838.9 1070.0,2813.7 1073.0,2797.7C1076.0,2781.7 1079.4,2768.8 1082.3,2760.0C1085.2,2751.2 1088.0,2748.1 1090.5,2745.0C1093.0,2741.9 1094.0,2740.4 1097.3,2741.2C1100.5,2742.0 1105.6,2744.8 1110.0,2749.6C1114.4,2754.4 1119.0,2762.8 1123.6,2770.2C1128.2,2777.6 1132.8,2785.6 1137.4,2794.2C1142.0,2802.8 1146.4,2812.5 1151.0,2821.7C1155.6,2830.9 1159.6,2839.5 1164.8,2849.2C1170.0,2858.9 1176.3,2870.9 1182.0,2880.0C1187.7,2889.1 1193.8,2897.1 1199.0,2904.0C1204.2,2910.9 1206.2,2914.5 1213.0,2921.3C1219.8,2928.1 1230.8,2937.4 1240.0,2945.0C1249.2,2952.6 1259.2,2961.2 1267.9,2967.0C1276.6,2972.8 1279.4,2974.2 1292.0,2980.0C1304.6,2985.8 1325.7,2996.7 1343.4,3002.0C1361.1,3007.3 1372.3,3006.5 1398.4,3012.0C1424.5,3017.5 1449.7,3027.8 1500.0,3035.0C1550.3,3042.2 1609.0,3050.0 1700.0,3055.0C1791.0,3060.0 1988.3,3063.3 2046.0,3065.0" fill="none" stroke="#ff7f07" stroke-width="11.5" stroke-linejoin="round"/>
<g fill="#049304"><circle cx="124.0" cy="2297.7" r="18.3"/><circle cx="135.0" cy="2303.2" r="18.3"/><circle cx="146.0" cy="2268.5" r="18.3"/><circle cx="157.0" cy="2299.4" r="18.3"/><circle cx="168.0" cy="2302.5" r="18.3"/><circle cx="179.0" cy="2291.1" r="18.3"/><circle cx="190.0" cy="2320.0" r="18.3"/><circle cx="201.0" cy="2301.1" r="18.3"/><circle cx="212.0" cy="2320.8" r="18.3"/><circle cx="223.0" cy="2303.7" r="18.3"/><circle cx="234.0" cy="2323.4" r="18.3"/><circle cx="245.0" cy="2287.4" r="18.3"/><circle cx="256.0" cy="2268.5" r="18.3"/><circle cx="267.0" cy="2326.4" r="18.3"/><circle cx="278.0" cy="2305.4" r="18.3"/><circle cx="289.0" cy="2317.4" r="18.3"/><circle cx="300.0" cy="2303.8" r="18.3"/><circle cx="311.0" cy="2316.2" r="18.3"/><circle cx="322.0" cy="2308.7" r="18.3"/><circle cx="333.0" cy="2303.8" r="18.3"/><circle cx="344.0" cy="2303.9" r="18.3"/><circle cx="355.0" cy="2286.5" r="18.3"/><circle cx="366.0" cy="2287.2" r="18.3"/><circle cx="377.0" cy="2257.0" r="18.3"/><circle cx="388.0" cy="2309.5" r="18.3"/><circle cx="399.0" cy="2283.2" r="18.3"/><circle cx="410.0" cy="2258.9" r="18.3"/><circle cx="421.0" cy="2297.0" r="18.3"/><circle cx="432.0" cy="2308.8" r="18.3"/><circle cx="443.0" cy="2316.0" r="18.3"/><circle cx="454.0" cy="2260.4" r="18.3"/><circle cx="465.0" cy="2304.1" r="18.3"/><circle cx="476.0" cy="2290.5" r="18.3"/><circle cx="487.0" cy="2281.9" r="18.3"/><circle cx="498.0" cy="2311.0" r="18.3"/><circle cx="509.0" cy="2274.5" r="18.3"/><circle cx="520.0" cy="2292.0" r="18.3"/><circle cx="531.0" cy="2277.4" r="18.3"/><circle cx="542.0" cy="2306.2" r="18.3"/><circle cx="553.0" cy="2300.4" r="18.3"/><circle cx="564.0" cy="2272.3" r="18.3"/><circle cx="575.0" cy="2326.4" r="18.3"/><circle cx="586.0" cy="2293.4" r="18.3"/><circle cx="597.0" cy="2309.7" r="18.3"/><circle cx="608.0" cy="2271.6" r="18.3"/><circle cx="619.0" cy="2328.6" r="18.3"/><circle cx="630.0" cy="2318.3" r="18.3"/><circle cx="641.0" cy="2327.9" r="18.3"/><circle cx="652.0" cy="2342.6" r="18.3"/><circle cx="663.0" cy="2322.6" r="18.3"/><circle cx="674.0" cy="2326.5" r="18.3"/><circle cx="685.0" cy="2294.4" r="18.3"/><circle cx="696.0" cy="2354.2" r="18.3"/><circle cx="707.0" cy="2354.7" r="18.3"/><circle cx="718.0" cy="2327.9" r="18.3"/><circle cx="729.0" cy="2367.0" r="18.3"/><circle cx="740.0" cy="2338.9" r="18.3"/><circle cx="751.0" cy="2357.4" r="18.3"/><circle cx="762.0" cy="2337.0" r="18.3"/><circle cx="773.0" cy="2405.7" r="18.3"/><circle cx="784.0" cy="2365.0" r="18.3"/><circle cx="795.0" cy="2347.1" r="18.3"/><circle cx="806.0" cy="2382.1" r="18.3"/><circle cx="817.0" cy="2372.4" r="18.3"/><circle cx="828.0" cy="2380.3" r="18.3"/><circle cx="839.0" cy="2360.9" r="18.3"/><circle cx="850.0" cy="2388.2" r="18.3"/><circle cx="861.0" cy="2372.2" r="18.3"/><circle cx="872.0" cy="2362.2" r="18.3"/><circle cx="1323.0" cy="2359.2" r="18.3"/><circle cx="1334.0" cy="2353.5" r="18.3"/><circle cx="1345.0" cy="2348.7" r="18.3"/><circle cx="1356.0" cy="2333.7" r="18.3"/><circle cx="1367.0" cy="2381.6" r="18.3"/><circle cx="1378.0" cy="2355.0" r="18.3"/><circle cx="1389.0" cy="2337.7" r="18.3"/><circle cx="1400.0" cy="2327.6" r="18.3"/><circle cx="1411.0" cy="2317.5" r="18.3"/><circle cx="1422.0" cy="2339.4" r="18.3"/><circle cx="1433.0" cy="2298.5" r="18.3"/><circle cx="1444.0" cy="2346.9" r="18.3"/><circle cx="1455.0" cy="2305.4" r="18.3"/><circle cx="1466.0" cy="2312.3" r="18.3"/><circle cx="1477.0" cy="2323.6" r="18.3"/><circle cx="1488.0" cy="2303.8" r="18.3"/><circle cx="1499.0" cy="2315.6" r="18.3"/><circle cx="1510.0" cy="2312.2" r="18.3"/><circle cx="1521.0" cy="2326.2" r="18.3"/><circle cx="1532.0" cy="2300.2" r="18.3"/><circle cx="1543.0" cy="2275.1" r="18.3"/><circle cx="1554.0" cy="2300.4" r="18.3"/><circle cx="1565.0" cy="2303.8" r="18.3"/><circle cx="1576.0" cy="2305.1" r="18.3"/><circle cx="1587.0" cy="2275.1" r="18.3"/><circle cx="1598.0" cy="2295.7" r="18.3"/><circle cx="1609.0" cy="2273.7" r="18.3"/><circle cx="1620.0" cy="2250.3" r="18.3"/><circle cx="1631.0" cy="2288.4" r="18.3"/><circle cx="1642.0" cy="2267.7" r="18.3"/><circle cx="1653.0" cy="2256.5" r="18.3"/><circle cx="1664.0" cy="2248.4" r="18.3"/><circle cx="1675.0" cy="2315.0" r="18.3"/><circle cx="1686.0" cy="2307.4" r="18.3"/><circle cx="1697.0" cy="2277.7" r="18.3"/><circle cx="1708.0" cy="2272.9" r="18.3"/><circle cx="1719.0" cy="2242.5" r="18.3"/><circle cx="1730.0" cy="2229.8" r="18.3"/><circle cx="1741.0" cy="2214.2" r="18.3"/><circle cx="1752.0" cy="2241.6" r="18.3"/><circle cx="1763.0" cy="2257.2" r="18.3"/><circle cx="1774.0" cy="2266.7" r="18.3"/><circle cx="1785.0" cy="2290.7" r="18.3"/><circle cx="1796.0" cy="2272.1" r="18.3"/><circle cx="1807.0" cy="2282.7" r="18.3"/><circle cx="1818.0" cy="2269.5" r="18.3"/><circle cx="1829.0" cy="2270.6" r="18.3"/><circle cx="1840.0" cy="2272.8" r="18.3"/><circle cx="1851.0" cy="2252.6" r="18.3"/><circle cx="1862.0" cy="2263.9" r="18.3"/><circle cx="1873.0" cy="2256.9" r="18.3"/><circle cx="1884.0" cy="2286.8" r="18.3"/><circle cx="1895.0" cy="2238.6" r="18.3"/><circle cx="1906.0" cy="2285.3" r="18.3"/><circle cx="1917.0" cy="2266.7" r="18.3"/><circle cx="1928.0" cy="2254.3" r="18.3"/><circle cx="1939.0" cy="2293.3" r="18.3"/><circle cx="1950.0" cy="2267.0" r="18.3"/><circle cx="1961.0" cy="2289.4" r="18.3"/><circle cx="1972.0" cy="2286.9" r="18.3"/><circle cx="1983.0" cy="2298.0" r="18.3"/><circle cx="1994.0" cy="2278.6" r="18.3"/><circle cx="2005.0" cy="2288.1" r="18.3"/><circle cx="2016.0" cy="2305.0" r="18.3"/><circle cx="2027.0" cy="2295.9" r="18.3"/><circle cx="2038.0" cy="2306.2" r="18.3"/><circle cx="127.2" cy="2283.9" r="18.3"/><circle cx="127.2" cy="2311.4" r="18.3"/><circle cx="151.2" cy="2253.0" r="18.3"/><circle cx="144.3" cy="2287.4" r="18.3"/><circle cx="171.8" cy="2268.5" r="18.3"/><circle cx="177.0" cy="2325.1" r="18.3"/><circle cx="190.0" cy="2208.4" r="18.3"/><circle cx="202.7" cy="2290.8" r="18.3"/><circle cx="223.3" cy="2333.7" r="18.3"/><circle cx="223.3" cy="2290.8" r="18.3"/><circle cx="242.2" cy="2259.9" r="18.3"/><circle cx="248.4" cy="2230.7" r="18.3"/><circle cx="254.2" cy="2325.1" r="18.3"/><circle cx="257.7" cy="2287.4" r="18.3"/><circle cx="273.1" cy="2275.3" r="18.3"/><circle cx="280.7" cy="2335.4" r="18.3"/><circle cx="295.4" cy="2297.7" r="18.3"/><circle cx="312.6" cy="2259.9" r="18.3"/><circle cx="319.5" cy="2318.3" r="18.3"/><circle cx="333.2" cy="2294.2" r="18.3"/><circle cx="357.3" cy="2261.6" r="18.3"/><circle cx="350.4" cy="2311.4" r="18.3"/><circle cx="376.1" cy="2230.7" r="18.3"/><circle cx="396.7" cy="2230.7" r="18.3"/><circle cx="408.8" cy="2253.0" r="18.3"/><circle cx="383.0" cy="2318.3" r="18.3"/><circle cx="415.6" cy="2273.6" r="18.3"/><circle cx="412.2" cy="2301.1" r="18.3"/><circle cx="432.8" cy="2290.8" r="18.3"/><circle cx="427.7" cy="2326.9" r="18.3"/><circle cx="460.3" cy="2238.6" r="18.3"/><circle cx="453.4" cy="2311.4" r="18.3"/><circle cx="466.5" cy="2367.4" r="18.3"/><circle cx="470.6" cy="2304.5" r="18.3"/><circle cx="484.3" cy="2325.1" r="18.3"/><circle cx="491.2" cy="2253.0" r="18.3"/><circle cx="498.0" cy="2297.7" r="18.3"/><circle cx="511.1" cy="2230.7" r="18.3"/><circle cx="522.1" cy="2318.3" r="18.3"/><circle cx="530.7" cy="2259.9" r="18.3"/><circle cx="522.1" cy="2287.4" r="18.3"/><circle cx="549.6" cy="2283.9" r="18.3"/><circle cx="566.7" cy="2294.2" r="18.3"/><circle cx="575.3" cy="2246.2" r="18.3"/><circle cx="587.3" cy="2340.6" r="18.3"/><circle cx="595.9" cy="2253.0" r="18.3"/><circle cx="583.9" cy="2297.7" r="18.3"/><circle cx="604.5" cy="2301.1" r="18.3"/><circle cx="161.5" cy="2304.5" r="18.3"/><circle cx="192.4" cy="2311.4" r="18.3"/><circle cx="302.3" cy="2318.3" r="18.3"/><circle cx="549.6" cy="2311.4" r="18.3"/><circle cx="624.6" cy="2297.7" r="18.3"/><circle cx="631.5" cy="2332.0" r="18.3"/><circle cx="652.1" cy="2347.5" r="18.3"/><circle cx="659.0" cy="2246.2" r="18.3"/><circle cx="671.0" cy="2297.7" r="18.3"/><circle cx="690.9" cy="2275.3" r="18.3"/><circle cx="683.0" cy="2338.9" r="18.3"/><circle cx="698.5" cy="2326.9" r="18.3"/><circle cx="703.6" cy="2362.9" r="18.3"/><circle cx="727.7" cy="2297.7" r="18.3"/><circle cx="717.4" cy="2373.2" r="18.3"/><circle cx="736.2" cy="2380.1" r="18.3"/><circle cx="755.1" cy="2304.5" r="18.3"/><circle cx="744.8" cy="2349.2" r="18.3"/><circle cx="774.0" cy="2412.7" r="18.3"/><circle cx="780.9" cy="2380.1" r="18.3"/><circle cx="792.9" cy="2325.1" r="18.3"/><circle cx="799.8" cy="2362.9" r="18.3"/><circle cx="817.0" cy="2392.1" r="18.3"/><circle cx="830.7" cy="2373.2" r="18.3"/><circle cx="842.7" cy="2380.1" r="18.3"/><circle cx="858.2" cy="2392.1" r="18.3"/><circle cx="865.0" cy="2295.9" r="18.3"/><circle cx="871.9" cy="2342.3" r="18.3"/><circle cx="894.2" cy="2349.2" r="18.3"/><circle cx="902.8" cy="2304.5" r="18.3"/><circle cx="909.0" cy="2381.8" r="18.3"/><circle cx="916.5" cy="2287.4" r="18.3"/><circle cx="928.6" cy="2259.9" r="18.3"/><circle cx="940.6" cy="2330.3" r="18.3"/><circle cx="944.0" cy="2338.9" r="18.3"/><circle cx="954.3" cy="2253.0" r="18.3"/><circle cx="957.7" cy="2297.7" r="18.3"/><circle cx="968.0" cy="2335.4" r="18.3"/><circle cx="980.1" cy="2287.4" r="18.3"/><circle cx="985.2" cy="2253.0" r="18.3"/><circle cx="1012.7" cy="2237.6" r="18.3"/><circle cx="1017.8" cy="2258.2" r="18.3"/><circle cx="1024.7" cy="2287.4" r="18.3"/><circle cx="1031.6" cy="2299.4" r="18.3"/><circle cx="1002.4" cy="2263.3" r="18.3"/><circle cx="607.5" cy="2314.8" r="18.3"/><circle cx="648.7" cy="2314.8" r="18.3"/><circle cx="717.4" cy="2332.0" r="18.3"/><circle cx="768.9" cy="2342.3" r="18.3"/><circle cx="820.4" cy="2352.6" r="18.3"/><circle cx="847.9" cy="2352.6" r="18.3"/><circle cx="1102.0" cy="2052.0" r="18.3"/><circle cx="1108.7" cy="2099.0" r="18.3"/><circle cx="1114.4" cy="2151.5" r="18.3"/><circle cx="1121.6" cy="2176.1" r="18.3"/><circle cx="1095.7" cy="2196.2" r="18.3"/><circle cx="1088.5" cy="2288.0" r="18.3"/><circle cx="1082.7" cy="2357.2" r="18.3"/><circle cx="1076.1" cy="2503.5" r="18.3"/><circle cx="1038.0" cy="2453.6" r="18.3"/><circle cx="1063.4" cy="2591.4" r="18.3"/><circle cx="1069.7" cy="2614.5" r="18.3"/><circle cx="1055.3" cy="2623.2" r="18.3"/><circle cx="1042.3" cy="2653.5" r="18.3"/><circle cx="1050.4" cy="2662.1" r="18.3"/><circle cx="981.7" cy="2251.1" r="18.3"/><circle cx="1025.0" cy="2281.3" r="18.3"/><circle cx="950.0" cy="2339.0" r="18.3"/><circle cx="996.2" cy="2258.3" r="18.3"/><circle cx="1185.1" cy="2238.1" r="18.3"/><circle cx="1133.2" cy="2253.9" r="18.3"/><circle cx="1127.4" cy="2292.9" r="18.3"/><circle cx="1138.9" cy="2313.1" r="18.3"/><circle cx="1151.9" cy="2272.7" r="18.3"/><circle cx="1170.7" cy="2266.9" r="18.3"/><circle cx="1192.3" cy="2275.6" r="18.3"/><circle cx="1170.7" cy="2310.2" r="18.3"/><circle cx="1198.1" cy="2321.7" r="18.3"/><circle cx="1229.8" cy="2317.4" r="18.3"/><circle cx="1218.3" cy="2336.2" r="18.3"/><circle cx="1235.6" cy="2347.7" r="18.3"/><circle cx="1218.3" cy="2362.1" r="18.3"/><circle cx="1203.8" cy="2377.4" r="18.3"/><circle cx="1242.8" cy="2383.7" r="18.3"/><circle cx="1261.5" cy="2395.3" r="18.3"/><circle cx="1274.5" cy="2373.7" r="18.3"/><circle cx="1281.7" cy="2402.5" r="18.3"/><circle cx="1294.7" cy="2382.3" r="18.3"/><circle cx="1288.1" cy="2444.3" r="18.3"/><circle cx="1300.5" cy="2311.6" r="18.3"/><circle cx="1306.2" cy="2353.5" r="18.3"/><circle cx="1322.1" cy="2326.1" r="18.3"/><circle cx="1325.0" cy="2365.0" r="18.3"/><circle cx="1339.4" cy="2380.9" r="18.3"/><circle cx="1352.4" cy="2311.6" r="18.3"/><circle cx="1353.8" cy="2353.5" r="18.3"/><circle cx="1365.4" cy="2385.2" r="18.3"/><circle cx="1151.9" cy="2295.8" r="18.3"/><circle cx="1302.9" cy="2378.1" r="18.3"/><circle cx="1317.3" cy="2360.8" r="18.3"/><circle cx="1360.6" cy="2349.2" r="18.3"/><circle cx="1377.9" cy="2389.6" r="18.3"/><circle cx="1383.7" cy="2303.1" r="18.3"/><circle cx="1395.2" cy="2331.9" r="18.3"/><circle cx="1415.4" cy="2303.1" r="18.3"/><circle cx="1429.8" cy="2355.0" r="18.3"/><circle cx="1421.2" cy="2331.9" r="18.3"/><circle cx="1447.1" cy="2274.2" r="18.3"/><circle cx="1455.8" cy="2303.1" r="18.3"/><circle cx="1464.4" cy="2326.2" r="18.3"/><circle cx="1493.3" cy="2274.2" r="18.3"/><circle cx="1487.5" cy="2308.8" r="18.3"/><circle cx="1499.0" cy="2333.4" r="18.3"/><circle cx="1517.8" cy="2331.9" r="18.3"/><circle cx="1530.8" cy="2274.2" r="18.3"/><circle cx="1543.7" cy="2252.6" r="18.3"/><circle cx="1536.5" cy="2308.8" r="18.3"/><circle cx="1559.6" cy="2280.0" r="18.3"/><circle cx="1581.2" cy="2252.6" r="18.3"/><circle cx="1576.9" cy="2327.6" r="18.3"/><circle cx="1565.4" cy="2308.8" r="18.3"/><circle cx="1608.7" cy="2229.5" r="18.3"/><circle cx="1600.0" cy="2303.1" r="18.3"/><circle cx="1617.3" cy="2268.5" r="18.3"/><circle cx="1631.7" cy="2238.2" r="18.3"/><circle cx="1628.8" cy="2297.3" r="18.3"/><circle cx="1659.7" cy="2215.1" r="18.3"/><circle cx="1653.4" cy="2241.1" r="18.3"/><circle cx="1646.2" cy="2274.2" r="18.3"/><circle cx="1677.9" cy="2268.5" r="18.3"/><circle cx="1686.5" cy="2291.5" r="18.3"/><circle cx="1679.3" cy="2326.2" r="18.3"/><circle cx="1693.7" cy="2333.4" r="18.3"/><circle cx="1703.8" cy="2268.5" r="18.3"/><circle cx="1712.5" cy="2282.9" r="18.3"/><circle cx="1720.0" cy="2202.1" r="18.3"/><circle cx="1720.0" cy="2216.5" r="18.3"/><circle cx="1337.5" cy="2337.7" r="18.3"/><circle cx="1513.5" cy="2303.1" r="18.3"/><circle cx="1614.4" cy="2251.2" r="18.3"/><circle cx="1708.8" cy="2268.5" r="18.3"/><circle cx="1736.2" cy="2193.5" r="18.3"/><circle cx="1750.7" cy="2207.9" r="18.3"/><circle cx="1743.5" cy="2245.4" r="18.3"/><circle cx="1756.4" cy="2262.7" r="18.3"/><circle cx="1766.5" cy="2245.4" r="18.3"/><circle cx="1775.2" cy="2290.1" r="18.3"/><circle cx="1788.2" cy="2298.7" r="18.3"/><circle cx="1795.4" cy="2245.4" r="18.3"/><circle cx="1806.9" cy="2256.9" r="18.3"/><circle cx="1812.7" cy="2298.7" r="18.3"/><circle cx="1820.5" cy="2184.8" r="18.3"/><circle cx="1827.1" cy="2355.9" r="18.3"/><circle cx="1838.7" cy="2238.2" r="18.3"/><circle cx="1835.8" cy="2274.2" r="18.3"/><circle cx="1845.9" cy="2295.9" r="18.3"/><circle cx="1864.6" cy="2238.2" r="18.3"/><circle cx="1858.8" cy="2268.5" r="18.3"/><circle cx="1878.5" cy="2304.5" r="18.3"/><circle cx="1887.7" cy="2259.8" r="18.3"/><circle cx="1909.3" cy="2229.5" r="18.3"/><circle cx="1916.5" cy="2291.5" r="18.3"/><circle cx="1936.7" cy="2229.5" r="18.3"/><circle cx="1925.2" cy="2251.2" r="18.3"/><circle cx="1942.5" cy="2355.9" r="18.3"/><circle cx="1951.2" cy="2254.0" r="18.3"/><circle cx="1948.3" cy="2304.5" r="18.3"/><circle cx="1968.5" cy="2303.1" r="18.3"/><circle cx="1974.2" cy="2280.0" r="18.3"/><circle cx="1988.7" cy="2252.6" r="18.3"/><circle cx="2000.2" cy="2295.9" r="18.3"/><circle cx="2020.4" cy="2282.9" r="18.3"/><circle cx="2026.2" cy="2308.8" r="18.3"/><circle cx="2037.7" cy="2300.2" r="18.3"/><circle cx="2043.5" cy="2349.2" r="18.3"/><circle cx="1818.5" cy="2259.8" r="18.3"/><circle cx="1881.9" cy="2245.4" r="18.3"/><circle cx="1905.0" cy="2254.0" r="18.3"/></g>
<path d="M118.6,2329.0C195.5,2328.9 463.1,2328.4 580.0,2328.6C696.9,2328.8 768.5,2329.2 820.0,2330.3C871.5,2331.4 871.8,2333.4 889.0,2335.4C906.2,2337.4 913.2,2340.0 923.4,2342.3C933.6,2344.6 942.7,2346.7 950.0,2349.0C957.3,2351.3 961.3,2352.7 967.3,2356.3C973.3,2359.9 980.2,2365.0 986.0,2370.8C991.8,2376.6 997.3,2383.8 1002.0,2391.0C1006.7,2398.2 1010.0,2404.9 1014.0,2414.0C1018.0,2423.1 1022.3,2434.7 1026.0,2445.8C1029.7,2456.9 1032.9,2467.4 1036.0,2480.4C1039.1,2493.4 1042.1,2509.7 1044.8,2523.6C1047.5,2537.5 1049.8,2552.0 1052.0,2564.0C1054.2,2576.0 1056.5,2588.6 1058.0,2595.8C1059.5,2603.1 1060.2,2605.0 1061.0,2607.5C1061.8,2610.0 1062.0,2611.4 1062.8,2610.8C1063.6,2610.2 1064.6,2608.9 1065.6,2604.0C1066.6,2599.1 1067.9,2592.3 1069.0,2581.3C1070.1,2570.3 1071.0,2554.8 1072.0,2538.0C1073.0,2521.2 1074.3,2499.6 1075.3,2480.4C1076.3,2461.2 1077.1,2444.3 1078.0,2422.7C1078.9,2401.1 1079.9,2374.6 1080.8,2350.6C1081.7,2326.6 1082.5,2302.6 1083.4,2278.5C1084.3,2254.4 1085.2,2230.4 1086.2,2206.3C1087.2,2182.2 1088.3,2154.9 1089.3,2134.2C1090.3,2113.5 1091.2,2094.8 1092.0,2082.3C1092.8,2069.8 1093.1,2065.0 1094.2,2059.2C1095.3,2053.4 1097.4,2050.1 1098.6,2047.7C1099.8,2045.3 1100.2,2043.4 1101.4,2044.8C1102.6,2046.2 1104.1,2049.6 1105.8,2056.3C1107.5,2063.0 1109.6,2075.1 1111.5,2085.2C1113.4,2095.3 1115.1,2105.9 1117.3,2117.0C1119.5,2128.1 1121.8,2140.0 1124.5,2151.5C1127.2,2163.0 1130.1,2174.6 1133.2,2186.2C1136.3,2197.8 1139.7,2210.2 1143.3,2220.8C1146.9,2231.4 1150.5,2240.9 1154.8,2249.6C1159.1,2258.2 1163.4,2265.5 1169.2,2272.7C1175.0,2279.9 1181.7,2286.9 1189.4,2292.9C1197.1,2298.9 1205.3,2304.4 1215.4,2308.7C1225.5,2313.0 1236.6,2316.2 1250.0,2318.8C1263.4,2321.4 1276.0,2322.6 1296.0,2324.0C1316.0,2325.4 1336.0,2326.2 1370.0,2327.0C1404.0,2327.8 1387.3,2328.2 1500.0,2328.5C1612.7,2328.8 1955.0,2328.5 2046.0,2328.5" fill="none" stroke="#058405" stroke-width="11.5" stroke-linejoin="round"/>
</g>
<rect x="1641.3" y="1924" width="406.4" height="202.7" fill="#fff" stroke="#000" stroke-width="2.6"/>
<circle cx="1738.6" cy="1978.5" r="18.8" fill="#049304"/>
<rect x="1721.8" y="2056.9" width="33" height="33" fill="#ff7f07"/>
<text transform="translate(1842.1,2005) scale(1.06,1)" font-size="75">αMnS</text>
<text transform="translate(1843.7,2099.3) scale(1.044,1)" font-size="75">γMnS</text>
<text x="116.5" y="2041" font-size="128">(b)</text>
<text x="64.8" y="2597" font-size="91" text-anchor="middle">T</text>
<text transform="translate(1104,3641.4) scale(1.0476,1)" font-size="90" text-anchor="middle">Z(mm)</text>
</svg>
</body></html>
